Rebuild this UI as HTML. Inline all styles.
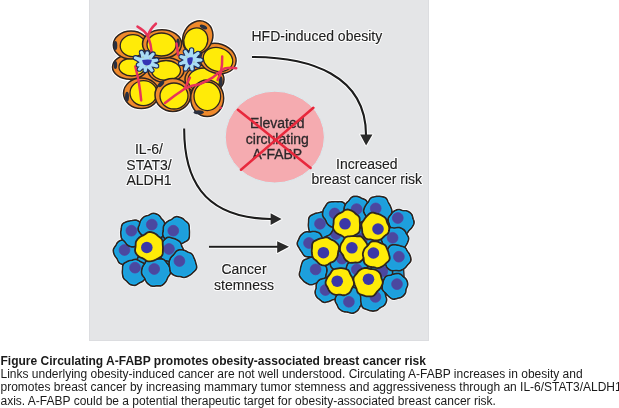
<!DOCTYPE html>
<html><head><meta charset="utf-8"><style>
html,body{margin:0;padding:0;background:#fff;width:619px;height:408px;overflow:hidden}
svg{display:block;font-family:"Liberation Sans",sans-serif;will-change:transform}
</style></head><body>
<svg width="619" height="408" viewBox="0 0 619 408">
<rect x="89" y="0" width="340" height="341" fill="#e4e5e7"/><rect x="89.5" y="-1" width="339" height="341.5" fill="none" stroke="#dcdde0" stroke-width="1"/>
<ellipse cx="166" cy="70" rx="18" ry="12.5" fill="#fff" stroke="#fff" stroke-width="3.5"/>
<ellipse cx="204.5" cy="79.5" rx="19.5" ry="14.5" fill="#fff" stroke="#fff" stroke-width="3.5"/>
<ellipse cx="217.5" cy="58.5" rx="19" ry="14.8" transform="rotate(18 217.5 58.5)" fill="#fff" stroke="#fff" stroke-width="3.5"/>
<ellipse cx="130" cy="67" rx="17.5" ry="12.3" fill="#fff" stroke="#fff" stroke-width="3.5"/>
<ellipse cx="131" cy="45" rx="17.7" ry="14" fill="#fff" stroke="#fff" stroke-width="3.5"/>
<ellipse cx="162" cy="44" rx="19.5" ry="14.2" fill="#fff" stroke="#fff" stroke-width="3.5"/>
<ellipse cx="197.8" cy="37.5" rx="14.5" ry="17.2" transform="rotate(28 197.8 37.5)" fill="#fff" stroke="#fff" stroke-width="3.5"/>
<ellipse cx="141.3" cy="93.3" rx="17.8" ry="15.3" fill="#fff" stroke="#fff" stroke-width="3.5"/>
<ellipse cx="172.8" cy="95" rx="17.8" ry="16.5" fill="#fff" stroke="#fff" stroke-width="3.5"/>
<ellipse cx="207.2" cy="98.3" rx="16.5" ry="18.3" fill="#fff" stroke="#fff" stroke-width="3.5"/>
<path d="M126,50 L150,38 L185,40 L208,52 L218,78 L208,100 L175,102 L140,95 L124,70Z" fill="#f08a2c"/>
<ellipse cx="166" cy="70" rx="18" ry="12.5" fill="#f08a2c" stroke="#2e2420" stroke-width="1.5"/>
<ellipse cx="166" cy="70.5" rx="14.5" ry="10" fill="#ffeb08" stroke="#2e2420" stroke-width="1.3"/>
<ellipse cx="204.5" cy="79.5" rx="19.5" ry="14.5" fill="#f08a2c" stroke="#2e2420" stroke-width="1.5"/>
<ellipse cx="204" cy="80" rx="16" ry="12" fill="#ffeb08" stroke="#2e2420" stroke-width="1.3"/>
<ellipse cx="220.7" cy="81.3" rx="2" ry="5" fill="#2a3040"/>
<ellipse cx="217.5" cy="58.5" rx="19" ry="14.8" transform="rotate(18 217.5 58.5)" fill="#f08a2c" stroke="#2e2420" stroke-width="1.5"/>
<ellipse cx="218" cy="59.5" rx="15" ry="11.8" transform="rotate(18 218 59.5)" fill="#ffeb08" stroke="#2e2420" stroke-width="1.3"/>
<ellipse cx="200.8" cy="53.5" rx="1.8" ry="4.5" transform="rotate(10 200.8 53.5)" fill="#2a3040"/>
<ellipse cx="130" cy="67" rx="17.5" ry="12.3" fill="#f08a2c" stroke="#2e2420" stroke-width="1.5"/>
<ellipse cx="132" cy="67" rx="13" ry="9" fill="#ffeb08" stroke="#2e2420" stroke-width="1.3"/>
<ellipse cx="115.4" cy="65" rx="1.8" ry="4" fill="#2a3040"/>
<ellipse cx="131" cy="45" rx="17.7" ry="14" fill="#f08a2c" stroke="#2e2420" stroke-width="1.5"/>
<ellipse cx="133" cy="45.7" rx="12.8" ry="11" fill="#ffeb08" stroke="#2e2420" stroke-width="1.3"/>
<ellipse cx="115.5" cy="45.5" rx="1.8" ry="4.5" fill="#2a3040"/>
<ellipse cx="162" cy="44" rx="19.5" ry="14.2" fill="#f08a2c" stroke="#2e2420" stroke-width="1.5"/>
<ellipse cx="161.5" cy="44.5" rx="14.5" ry="11.5" fill="#ffeb08" stroke="#2e2420" stroke-width="1.3"/>
<ellipse cx="178" cy="43" rx="1.8" ry="4.5" fill="#2a3040"/>
<ellipse cx="197.8" cy="37.5" rx="14.5" ry="17.2" transform="rotate(28 197.8 37.5)" fill="#f08a2c" stroke="#2e2420" stroke-width="1.5"/>
<ellipse cx="195.8" cy="40.5" rx="11.8" ry="12.8" transform="rotate(28 195.8 40.5)" fill="#ffeb08" stroke="#2e2420" stroke-width="1.3"/>
<ellipse cx="203.5" cy="27" rx="4" ry="1.8" transform="rotate(25 203.5 27)" fill="#2a3040"/>
<ellipse cx="141.3" cy="93.3" rx="17.8" ry="15.3" fill="#f08a2c" stroke="#2e2420" stroke-width="1.5"/>
<ellipse cx="143.5" cy="93.1" rx="13.5" ry="12.5" fill="#ffeb08" stroke="#2e2420" stroke-width="1.3"/>
<ellipse cx="127" cy="96.8" rx="2" ry="5" fill="#2a3040"/>
<ellipse cx="172.8" cy="95" rx="17.8" ry="16.5" fill="#f08a2c" stroke="#2e2420" stroke-width="1.5"/>
<ellipse cx="174" cy="96" rx="14" ry="13" fill="#ffeb08" stroke="#2e2420" stroke-width="1.3"/>
<ellipse cx="161" cy="84" rx="4" ry="2" transform="rotate(-45 161 84)" fill="#2a3040"/>
<ellipse cx="207.2" cy="98.3" rx="16.5" ry="18.3" fill="#f08a2c" stroke="#2e2420" stroke-width="1.5"/>
<ellipse cx="207.3" cy="96.3" rx="13.3" ry="14.3" fill="#ffeb08" stroke="#2e2420" stroke-width="1.3"/>
<ellipse cx="198.7" cy="112.2" rx="5" ry="2" fill="#2a3040"/>
<path d="M137.5,26.6 Q144,30 147.8,35.8 Q151,44 152,54" fill="none" stroke="#e8345a" stroke-width="2.5" stroke-linecap="round"/>
<path d="M155.9,23.7 Q150,29 147.8,35.8" fill="none" stroke="#e8345a" stroke-width="2.5" stroke-linecap="round"/>
<path d="M135.3,66.5 Q139.5,82 141.2,100.4" fill="none" stroke="#e8345a" stroke-width="2.5" stroke-linecap="round"/>
<path d="M165,103 Q175,95 184.7,88.7 Q192,85 199.4,84.3 Q207,81 212.6,77.6 Q219,72 224.4,68.5 Q230,67 236.2,68.2" fill="none" stroke="#e8345a" stroke-width="2.5" stroke-linecap="round"/>
<path d="M189.9,77.6 Q187.5,83 184.7,88.7" fill="none" stroke="#e8345a" stroke-width="2.5" stroke-linecap="round"/>
<path d="M222.2,56.5 Q222.5,65 220.7,73 Q219,77 217.6,80" fill="none" stroke="#e8345a" stroke-width="2.5" stroke-linecap="round"/>
<path d="M176.5,43.5 Q177.5,49 178,55" fill="none" stroke="#e8345a" stroke-width="2.5" stroke-linecap="round"/>
<circle cx="220.7" cy="107.8" r="1.2" fill="#e8345a"/>
<circle cx="145.6" cy="62.3" r="6.9" fill="#1c2c5c"/><path d="M146.51,57.62 L142.85,51.76 L140.26,52.81 L141.69,59.57Z" fill="#1c2c5c" stroke="#1c2c5c" stroke-width="2.2" stroke-linejoin="round"/><circle cx="141.55" cy="52.29" r="2.7" fill="#1c2c5c"/><path d="M148.86,58.81 L148.66,52.99 L145.91,52.50 L143.73,57.91Z" fill="#1c2c5c" stroke="#1c2c5c" stroke-width="2.2" stroke-linejoin="round"/><circle cx="147.28" cy="52.75" r="2.7" fill="#1c2c5c"/><path d="M150.21,61.07 L154.13,54.91 L152.05,53.04 L146.34,57.59Z" fill="#1c2c5c" stroke="#1c2c5c" stroke-width="2.2" stroke-linejoin="round"/><circle cx="153.09" cy="53.98" r="2.7" fill="#1c2c5c"/><path d="M150.02,64.09 L156.86,61.54 L156.33,58.79 L149.03,58.98Z" fill="#1c2c5c" stroke="#1c2c5c" stroke-width="2.2" stroke-linejoin="round"/><circle cx="156.59" cy="60.16" r="2.7" fill="#1c2c5c"/><path d="M148.60,66.01 L156.20,67.22 L157.06,64.55 L150.21,61.06Z" fill="#1c2c5c" stroke="#1c2c5c" stroke-width="2.2" stroke-linejoin="round"/><circle cx="156.63" cy="65.88" r="2.7" fill="#1c2c5c"/><path d="M146.01,67.05 L150.78,71.20 L152.98,69.48 L150.11,63.85Z" fill="#1c2c5c" stroke="#1c2c5c" stroke-width="2.2" stroke-linejoin="round"/><circle cx="151.88" cy="70.34" r="2.7" fill="#1c2c5c"/><path d="M142.86,66.21 L143.91,70.45 L146.71,70.54 L148.06,66.39Z" fill="#1c2c5c" stroke="#1c2c5c" stroke-width="2.2" stroke-linejoin="round"/><circle cx="145.31" cy="70.50" r="2.7" fill="#1c2c5c"/><path d="M140.99,63.53 L138.40,68.20 L140.48,70.07 L144.86,67.01Z" fill="#1c2c5c" stroke="#1c2c5c" stroke-width="2.2" stroke-linejoin="round"/><circle cx="139.44" cy="69.14" r="2.7" fill="#1c2c5c"/><path d="M140.95,61.22 L137.89,63.62 L138.84,66.25 L142.73,66.11Z" fill="#1c2c5c" stroke="#1c2c5c" stroke-width="2.2" stroke-linejoin="round"/><circle cx="138.36" cy="64.93" r="2.7" fill="#1c2c5c"/><path d="M143.00,58.30 L135.94,56.47 L134.80,59.02 L140.89,63.05Z" fill="#1c2c5c" stroke="#1c2c5c" stroke-width="2.2" stroke-linejoin="round"/><circle cx="135.37" cy="57.74" r="2.7" fill="#1c2c5c"/>
<circle cx="145.6" cy="62.3" r="5.8" fill="#a9dcf4"/><path d="M146.51,57.62 L142.85,51.76 L140.26,52.81 L141.69,59.57Z" fill="#a9dcf4"/><circle cx="141.55" cy="52.29" r="1.5999999999999999" fill="#a9dcf4"/><path d="M148.86,58.81 L148.66,52.99 L145.91,52.50 L143.73,57.91Z" fill="#a9dcf4"/><circle cx="147.28" cy="52.75" r="1.5999999999999999" fill="#a9dcf4"/><path d="M150.21,61.07 L154.13,54.91 L152.05,53.04 L146.34,57.59Z" fill="#a9dcf4"/><circle cx="153.09" cy="53.98" r="1.5999999999999999" fill="#a9dcf4"/><path d="M150.02,64.09 L156.86,61.54 L156.33,58.79 L149.03,58.98Z" fill="#a9dcf4"/><circle cx="156.59" cy="60.16" r="1.5999999999999999" fill="#a9dcf4"/><path d="M148.60,66.01 L156.20,67.22 L157.06,64.55 L150.21,61.06Z" fill="#a9dcf4"/><circle cx="156.63" cy="65.88" r="1.5999999999999999" fill="#a9dcf4"/><path d="M146.01,67.05 L150.78,71.20 L152.98,69.48 L150.11,63.85Z" fill="#a9dcf4"/><circle cx="151.88" cy="70.34" r="1.5999999999999999" fill="#a9dcf4"/><path d="M142.86,66.21 L143.91,70.45 L146.71,70.54 L148.06,66.39Z" fill="#a9dcf4"/><circle cx="145.31" cy="70.50" r="1.5999999999999999" fill="#a9dcf4"/><path d="M140.99,63.53 L138.40,68.20 L140.48,70.07 L144.86,67.01Z" fill="#a9dcf4"/><circle cx="139.44" cy="69.14" r="1.5999999999999999" fill="#a9dcf4"/><path d="M140.95,61.22 L137.89,63.62 L138.84,66.25 L142.73,66.11Z" fill="#a9dcf4"/><circle cx="138.36" cy="64.93" r="1.5999999999999999" fill="#a9dcf4"/><path d="M143.00,58.30 L135.94,56.47 L134.80,59.02 L140.89,63.05Z" fill="#a9dcf4"/><circle cx="135.37" cy="57.74" r="1.5999999999999999" fill="#a9dcf4"/>
<circle cx="190.2" cy="60" r="6.9" fill="#1c2c5c"/><path d="M190.45,55.24 L186.56,50.90 L184.14,52.30 L185.95,57.84Z" fill="#1c2c5c" stroke="#1c2c5c" stroke-width="2.2" stroke-linejoin="round"/><circle cx="185.35" cy="51.60" r="2.7" fill="#1c2c5c"/><path d="M193.33,56.40 L193.01,50.09 L190.23,49.70 L188.18,55.68Z" fill="#1c2c5c" stroke="#1c2c5c" stroke-width="2.2" stroke-linejoin="round"/><circle cx="191.62" cy="49.90" r="2.7" fill="#1c2c5c"/><path d="M194.94,59.42 L198.91,54.52 L197.11,52.37 L191.59,55.44Z" fill="#1c2c5c" stroke="#1c2c5c" stroke-width="2.2" stroke-linejoin="round"/><circle cx="198.01" cy="53.44" r="2.7" fill="#1c2c5c"/><path d="M194.20,62.60 L200.90,61.40 L200.90,58.60 L194.20,57.40Z" fill="#1c2c5c" stroke="#1c2c5c" stroke-width="2.2" stroke-linejoin="round"/><circle cx="200.90" cy="60.00" r="2.7" fill="#1c2c5c"/><path d="M191.99,64.42 L197.34,66.71 L198.95,64.42 L194.97,60.16Z" fill="#1c2c5c" stroke="#1c2c5c" stroke-width="2.2" stroke-linejoin="round"/><circle cx="198.15" cy="65.56" r="2.7" fill="#1c2c5c"/><path d="M188.49,64.45 L190.74,69.29 L193.48,68.71 L193.57,63.37Z" fill="#1c2c5c" stroke="#1c2c5c" stroke-width="2.2" stroke-linejoin="round"/><circle cx="192.11" cy="69.00" r="2.7" fill="#1c2c5c"/><path d="M186.03,62.31 L184.18,68.35 L186.65,69.66 L190.62,64.75Z" fill="#1c2c5c" stroke="#1c2c5c" stroke-width="2.2" stroke-linejoin="round"/><circle cx="185.41" cy="69.01" r="2.7" fill="#1c2c5c"/><path d="M185.55,58.92 L180.14,62.17 L181.09,64.80 L187.33,63.81Z" fill="#1c2c5c" stroke="#1c2c5c" stroke-width="2.2" stroke-linejoin="round"/><circle cx="180.62" cy="63.49" r="2.7" fill="#1c2c5c"/><path d="M187.33,56.19 L181.56,55.37 L180.61,58.00 L185.55,61.08Z" fill="#1c2c5c" stroke="#1c2c5c" stroke-width="2.2" stroke-linejoin="round"/><circle cx="181.08" cy="56.68" r="2.7" fill="#1c2c5c"/>
<circle cx="190.2" cy="60" r="5.8" fill="#a9dcf4"/><path d="M190.45,55.24 L186.56,50.90 L184.14,52.30 L185.95,57.84Z" fill="#a9dcf4"/><circle cx="185.35" cy="51.60" r="1.5999999999999999" fill="#a9dcf4"/><path d="M193.33,56.40 L193.01,50.09 L190.23,49.70 L188.18,55.68Z" fill="#a9dcf4"/><circle cx="191.62" cy="49.90" r="1.5999999999999999" fill="#a9dcf4"/><path d="M194.94,59.42 L198.91,54.52 L197.11,52.37 L191.59,55.44Z" fill="#a9dcf4"/><circle cx="198.01" cy="53.44" r="1.5999999999999999" fill="#a9dcf4"/><path d="M194.20,62.60 L200.90,61.40 L200.90,58.60 L194.20,57.40Z" fill="#a9dcf4"/><circle cx="200.90" cy="60.00" r="1.5999999999999999" fill="#a9dcf4"/><path d="M191.99,64.42 L197.34,66.71 L198.95,64.42 L194.97,60.16Z" fill="#a9dcf4"/><circle cx="198.15" cy="65.56" r="1.5999999999999999" fill="#a9dcf4"/><path d="M188.49,64.45 L190.74,69.29 L193.48,68.71 L193.57,63.37Z" fill="#a9dcf4"/><circle cx="192.11" cy="69.00" r="1.5999999999999999" fill="#a9dcf4"/><path d="M186.03,62.31 L184.18,68.35 L186.65,69.66 L190.62,64.75Z" fill="#a9dcf4"/><circle cx="185.41" cy="69.01" r="1.5999999999999999" fill="#a9dcf4"/><path d="M185.55,58.92 L180.14,62.17 L181.09,64.80 L187.33,63.81Z" fill="#a9dcf4"/><circle cx="180.62" cy="63.49" r="1.5999999999999999" fill="#a9dcf4"/><path d="M187.33,56.19 L181.56,55.37 L180.61,58.00 L185.55,61.08Z" fill="#a9dcf4"/><circle cx="181.08" cy="56.68" r="1.5999999999999999" fill="#a9dcf4"/>
<path d="M142.2,60 Q147,59 151.8,59.8 Q151.5,65.3 146.8,65.4 Q142.5,65.3 142.2,60Z" fill="#3434b4"/>
<path d="M187.3,58.5 Q190,56.8 192.8,57.6 Q193,64 189.5,65.6 Q187,63.5 187.3,58.5Z" fill="#3434b4"/>
<circle cx="143" cy="57" r="0.5" fill="#b8b030"/>
<circle cx="150" cy="58" r="0.5" fill="#b8b030"/>
<circle cx="146" cy="66" r="0.5" fill="#b8b030"/>
<circle cx="187" cy="57" r="0.5" fill="#b8b030"/>
<circle cx="194" cy="62" r="0.5" fill="#b8b030"/>
<circle cx="190" cy="66" r="0.5" fill="#b8b030"/>
<ellipse cx="274.8" cy="137.1" rx="49.6" ry="45.9" fill="#f5abb0" stroke="#d8ecf0" stroke-width="1"/>
<text x="277.3" y="128.2" text-anchor="middle" font-size="14" fill="#2c282a" stroke="#2c282a" stroke-width="0.3">Elevated</text>
<text x="277.3" y="143.8" text-anchor="middle" font-size="14" fill="#2c282a" stroke="#2c282a" stroke-width="0.3">circulating</text>
<text x="277.3" y="159.4" text-anchor="middle" font-size="14" fill="#2c282a" stroke="#2c282a" stroke-width="0.3">A-FABP</text>
<path d="M237.9,109.7 L310.6,167.9 M313.4,107.8 L241,169.7" stroke="#e8283c" stroke-width="2.5" stroke-linecap="round"/>
<path d="M252,57 C310,57 366,75 366,135" fill="none" stroke="#fff" stroke-width="3.8"/>
<path d="M360.2,134.5 L372.5,134.5 L366.1,145.5Z" fill="#fff" stroke="#fff" stroke-width="2" stroke-linejoin="round"/>
<path d="M252,57 C310,57 366,75 366,135" fill="none" stroke="#1c1c1c" stroke-width="2.1"/>
<path d="M360.2,134.5 L372.5,134.5 L366.1,145.5Z" fill="#2a2a2a"/>
<path d="M184.2,128.5 C184,175 200,218 271,219" fill="none" stroke="#fff" stroke-width="3.8"/>
<path d="M270.6,213.2 L270.6,225 L281.6,219.1Z" fill="#fff" stroke="#fff" stroke-width="2" stroke-linejoin="round"/>
<path d="M184.2,128.5 C184,175 200,218 271,219" fill="none" stroke="#1c1c1c" stroke-width="2.1"/>
<path d="M270.6,213.2 L270.6,225 L281.6,219.1Z" fill="#2a2a2a"/>
<path d="M209,246.8 L278,246.8" fill="none" stroke="#fff" stroke-width="3.8"/>
<path d="M277.2,241.2 L277.2,253 L289,246.8Z" fill="#fff" stroke="#fff" stroke-width="2" stroke-linejoin="round"/>
<path d="M209,246.8 L278,246.8" fill="none" stroke="#1c1c1c" stroke-width="2.1"/>
<path d="M277.2,241.2 L277.2,253 L289,246.8Z" fill="#2a2a2a"/>
<text x="251.5" y="41.2" text-anchor="start" font-size="14" fill="#fff" stroke="#fff" stroke-width="2.2" stroke-linejoin="round">HFD-induced obesity</text>
<text x="251.5" y="41.2" text-anchor="start" font-size="14" fill="#1e1e1e" stroke="#1e1e1e" stroke-width="0.15">HFD-induced obesity</text>
<text x="149" y="154.2" text-anchor="middle" font-size="14" fill="#fff" stroke="#fff" stroke-width="2.2" stroke-linejoin="round">IL-6/</text>
<text x="149" y="154.2" text-anchor="middle" font-size="14" fill="#1e1e1e" stroke="#1e1e1e" stroke-width="0.15">IL-6/</text>
<text x="149" y="169.79999999999998" text-anchor="middle" font-size="14" fill="#fff" stroke="#fff" stroke-width="2.2" stroke-linejoin="round">STAT3/</text>
<text x="149" y="169.79999999999998" text-anchor="middle" font-size="14" fill="#1e1e1e" stroke="#1e1e1e" stroke-width="0.15">STAT3/</text>
<text x="149" y="185.39999999999998" text-anchor="middle" font-size="14" fill="#fff" stroke="#fff" stroke-width="2.2" stroke-linejoin="round">ALDH1</text>
<text x="149" y="185.39999999999998" text-anchor="middle" font-size="14" fill="#1e1e1e" stroke="#1e1e1e" stroke-width="0.15">ALDH1</text>
<text x="366.8" y="169.2" text-anchor="middle" font-size="14" fill="#fff" stroke="#fff" stroke-width="2.2" stroke-linejoin="round">Increased</text>
<text x="366.8" y="169.2" text-anchor="middle" font-size="14" fill="#1e1e1e" stroke="#1e1e1e" stroke-width="0.15">Increased</text>
<text x="366.8" y="184.0" text-anchor="middle" font-size="14" fill="#fff" stroke="#fff" stroke-width="2.2" stroke-linejoin="round">breast cancer risk</text>
<text x="366.8" y="184.0" text-anchor="middle" font-size="14" fill="#1e1e1e" stroke="#1e1e1e" stroke-width="0.15">breast cancer risk</text>
<text x="244" y="274.0" text-anchor="middle" font-size="14" fill="#fff" stroke="#fff" stroke-width="2.2" stroke-linejoin="round">Cancer</text>
<text x="244" y="274.0" text-anchor="middle" font-size="14" fill="#1e1e1e" stroke="#1e1e1e" stroke-width="0.15">Cancer</text>
<text x="244" y="289.5" text-anchor="middle" font-size="14" fill="#fff" stroke="#fff" stroke-width="2.2" stroke-linejoin="round">stemness</text>
<text x="244" y="289.5" text-anchor="middle" font-size="14" fill="#1e1e1e" stroke="#1e1e1e" stroke-width="0.15">stemness</text>
<path d="M140.43,252.00 L139.93,253.46 L139.24,254.79 L138.61,256.06 L138.01,257.30 L137.32,258.49 L136.58,259.64 L135.88,260.88 L135.17,262.25 L134.26,263.55 L132.99,264.44 L131.49,264.82 L129.95,264.93 L128.47,265.03 L127.00,265.15 L125.52,265.11 L124.07,264.83 L122.65,264.42 L121.24,263.96 L119.90,263.30 L118.82,262.25 L118.10,260.90 L117.55,259.54 L116.88,258.36 L116.01,257.29 L115.13,256.15 L114.43,254.87 L113.92,253.47 L113.52,252.00 L113.35,250.46 L113.63,248.95 L114.38,247.58 L115.29,246.36 L116.07,245.13 L116.74,243.82 L117.54,242.54 L118.64,241.52 L119.96,240.80 L121.34,240.25 L122.75,239.85 L124.19,239.71 L125.63,239.86 L127.00,240.06 L128.35,240.02 L129.80,239.74 L131.35,239.57 L132.86,239.83 L134.21,240.52 L135.42,241.44 L136.53,242.47 L137.48,243.64 L138.16,244.99 L138.67,246.38 L139.24,247.72 L139.91,249.05 L140.42,250.49Z" fill="#fff" stroke="#fff" stroke-width="3.2"/>
<path d="M146.46,233.00 L145.92,234.40 L145.60,235.76 L145.37,237.15 L144.95,238.51 L144.28,239.78 L143.48,240.96 L142.60,242.10 L141.55,243.10 L140.28,243.80 L138.92,244.25 L137.61,244.75 L136.35,245.49 L135.00,246.30 L133.50,246.80 L131.94,246.82 L130.43,246.45 L128.99,245.88 L127.67,245.10 L126.57,244.04 L125.68,242.81 L124.82,241.68 L123.82,240.72 L122.71,239.78 L121.79,238.64 L121.28,237.28 L121.07,235.84 L120.95,234.41 L120.85,233.00 L120.89,231.58 L121.12,230.17 L121.36,228.75 L121.53,227.23 L121.79,225.64 L122.46,224.20 L123.64,223.14 L125.10,222.46 L126.56,221.95 L127.95,221.47 L129.32,221.07 L130.72,220.83 L132.11,220.66 L133.50,220.41 L134.95,220.16 L136.41,220.24 L137.77,220.80 L138.96,221.67 L140.10,222.50 L141.33,223.18 L142.63,223.87 L143.83,224.76 L144.89,225.84 L145.85,227.05 L146.68,228.39 L147.12,229.89 L146.99,231.48Z" fill="#fff" stroke="#fff" stroke-width="3.2"/>
<path d="M164.41,227.00 L164.32,228.39 L164.09,229.76 L163.77,231.12 L163.51,232.54 L163.29,234.10 L162.86,235.66 L161.94,236.94 L160.60,237.79 L159.12,238.34 L157.69,238.81 L156.29,239.26 L154.87,239.56 L153.43,239.67 L152.00,239.73 L150.55,239.83 L149.08,239.77 L147.70,239.29 L146.52,238.38 L145.49,237.35 L144.43,236.50 L143.22,235.78 L142.00,234.97 L140.90,233.97 L139.93,232.81 L139.04,231.54 L138.37,230.11 L138.18,228.56 L138.54,227.00 L139.14,225.55 L139.63,224.18 L139.94,222.78 L140.33,221.38 L141.01,220.09 L141.92,218.96 L142.92,217.92 L144.00,216.97 L145.25,216.26 L146.63,215.84 L147.99,215.54 L149.27,215.04 L150.57,214.29 L152.00,213.61 L153.54,213.34 L155.07,213.54 L156.54,214.03 L157.92,214.70 L159.16,215.61 L160.15,216.78 L160.97,218.03 L161.84,219.15 L162.85,220.18 L163.81,221.31 L164.40,222.66 L164.55,224.14 L164.48,225.59Z" fill="#fff" stroke="#fff" stroke-width="3.2"/>
<path d="M189.33,231.00 L189.37,232.44 L189.31,233.90 L189.28,235.44 L189.22,237.08 L188.83,238.69 L187.90,240.01 L186.56,240.96 L185.13,241.69 L183.79,242.44 L182.48,243.21 L181.08,243.81 L179.61,244.17 L178.11,244.42 L176.60,244.60 L175.07,244.54 L173.63,244.01 L172.36,243.12 L171.19,242.23 L169.94,241.60 L168.53,241.12 L167.11,240.49 L165.85,239.58 L164.74,238.45 L163.76,237.18 L163.03,235.75 L162.76,234.16 L162.94,232.54 L163.25,231.00 L163.39,229.51 L163.40,227.99 L163.61,226.46 L164.24,225.05 L165.17,223.82 L166.21,222.71 L167.31,221.71 L168.54,220.89 L169.87,220.30 L171.16,219.71 L172.36,218.89 L173.60,217.86 L175.02,217.02 L176.60,216.69 L178.19,216.86 L179.73,217.28 L181.21,217.82 L182.59,218.56 L183.80,219.54 L184.90,220.59 L186.04,221.56 L187.27,222.49 L188.32,223.64 L188.92,225.07 L189.08,226.63 L189.09,228.15 L189.19,229.58Z" fill="#fff" stroke="#fff" stroke-width="3.2"/>
<path d="M183.43,250.00 L183.55,251.41 L183.43,252.84 L183.10,254.23 L182.45,255.51 L181.42,256.55 L180.21,257.35 L179.11,258.11 L178.19,259.02 L177.27,259.98 L176.18,260.76 L174.93,261.22 L173.62,261.48 L172.31,261.67 L171.00,261.71 L169.70,261.52 L168.45,261.17 L167.18,260.91 L165.79,260.82 L164.31,260.65 L162.95,260.10 L161.89,259.11 L161.12,257.88 L160.52,256.59 L160.04,255.28 L159.78,253.93 L159.71,252.58 L159.62,251.28 L159.37,250.00 L159.13,248.66 L159.22,247.31 L159.76,246.07 L160.55,244.97 L161.31,243.91 L161.99,242.82 L162.74,241.74 L163.61,240.74 L164.57,239.77 L165.58,238.75 L166.74,237.83 L168.10,237.30 L169.57,237.35 L171.00,237.78 L172.32,238.24 L173.61,238.59 L174.87,238.95 L176.07,239.47 L177.21,240.12 L178.34,240.79 L179.45,241.55 L180.37,242.53 L180.94,243.75 L181.28,245.05 L181.69,246.26 L182.32,247.42 L183.00,248.65Z" fill="#fff" stroke="#fff" stroke-width="3.2"/>
<path d="M146.73,272.00 L146.47,273.35 L146.34,274.70 L146.08,276.05 L145.56,277.33 L144.89,278.53 L144.15,279.70 L143.27,280.77 L142.15,281.59 L140.87,282.14 L139.63,282.66 L138.48,283.38 L137.30,284.28 L135.97,285.01 L134.50,285.31 L133.01,285.22 L131.56,284.89 L130.18,284.35 L128.95,283.51 L127.95,282.43 L127.05,281.34 L126.06,280.44 L124.95,279.62 L123.92,278.65 L123.24,277.42 L122.90,276.06 L122.69,274.70 L122.49,273.35 L122.40,272.00 L122.50,270.65 L122.64,269.29 L122.68,267.86 L122.71,266.32 L123.06,264.81 L123.93,263.57 L125.19,262.69 L126.55,262.03 L127.85,261.42 L129.15,260.90 L130.49,260.54 L131.83,260.29 L133.15,259.99 L134.50,259.64 L135.91,259.51 L137.28,259.84 L138.51,260.55 L139.65,261.32 L140.83,261.92 L142.10,262.47 L143.34,263.16 L144.48,264.04 L145.54,265.06 L146.53,266.21 L147.25,267.54 L147.45,269.04 L147.16,270.57Z" fill="#fff" stroke="#fff" stroke-width="3.2"/>
<path d="M170.61,272.00 L170.27,273.61 L169.41,275.06 L168.39,276.34 L167.60,277.59 L167.05,278.94 L166.47,280.35 L165.68,281.68 L164.69,282.90 L163.58,284.06 L162.31,285.10 L160.82,285.76 L159.18,285.94 L157.56,285.88 L156.00,285.93 L154.41,286.14 L152.75,286.22 L151.15,285.86 L149.70,285.08 L148.40,284.09 L147.24,282.99 L146.29,281.71 L145.64,280.27 L145.11,278.84 L144.40,277.59 L143.40,276.41 L142.40,275.10 L141.78,273.60 L141.64,272.00 L141.77,270.40 L142.03,268.81 L142.48,267.27 L143.21,265.84 L144.12,264.53 L144.97,263.21 L145.78,261.78 L146.79,260.45 L148.16,259.53 L149.80,259.14 L151.47,259.05 L153.03,258.98 L154.52,258.89 L156.00,258.90 L157.47,258.99 L158.97,259.01 L160.58,258.92 L162.25,259.01 L163.79,259.61 L165.01,260.71 L166.00,262.00 L166.97,263.25 L167.99,264.47 L168.89,265.79 L169.55,267.26 L170.04,268.80 L170.44,270.37Z" fill="#fff" stroke="#fff" stroke-width="3.2"/>
<path d="M195.96,264.00 L196.42,265.57 L196.65,267.23 L196.31,268.83 L195.37,270.20 L194.18,271.34 L193.03,272.39 L191.95,273.45 L190.80,274.40 L189.53,275.19 L188.23,275.90 L186.91,276.61 L185.51,277.20 L184.01,277.38 L182.50,277.08 L181.08,276.62 L179.68,276.34 L178.21,276.27 L176.66,276.13 L175.15,275.70 L173.72,275.00 L172.37,274.13 L171.17,273.03 L170.34,271.64 L170.00,270.02 L169.93,268.40 L169.76,266.91 L169.40,265.48 L169.09,264.00 L169.11,262.49 L169.46,261.02 L169.97,259.62 L170.57,258.26 L171.38,257.01 L172.42,255.96 L173.52,255.02 L174.47,253.93 L175.35,252.61 L176.39,251.31 L177.74,250.39 L179.30,249.96 L180.91,249.87 L182.50,249.95 L184.05,250.26 L185.50,250.88 L186.83,251.63 L188.15,252.28 L189.55,252.77 L190.96,253.39 L192.12,254.38 L192.92,255.69 L193.49,257.09 L194.07,258.43 L194.67,259.74 L195.17,261.11 L195.55,262.53Z" fill="#fff" stroke="#fff" stroke-width="3.2"/>
<path d="M163.19,247.00 L163.40,248.57 L163.10,250.10 L162.36,251.50 L161.56,252.81 L160.91,254.17 L160.29,255.61 L159.45,256.95 L158.31,258.05 L156.98,258.90 L155.56,259.59 L154.06,260.02 L152.48,260.04 L150.93,259.71 L149.50,259.39 L148.11,259.37 L146.63,259.56 L145.09,259.59 L143.61,259.23 L142.23,258.57 L140.93,257.75 L139.72,256.78 L138.73,255.59 L138.02,254.22 L137.39,252.83 L136.63,251.50 L135.79,250.13 L135.24,248.61 L135.26,247.00 L135.75,245.45 L136.43,244.02 L137.13,242.67 L137.93,241.43 L138.84,240.30 L139.73,239.21 L140.47,237.97 L141.19,236.58 L142.15,235.30 L143.46,234.45 L144.96,234.03 L146.48,233.78 L147.98,233.51 L149.50,233.32 L151.04,233.36 L152.56,233.59 L154.10,233.86 L155.66,234.21 L157.10,234.91 L158.20,236.09 L158.92,237.58 L159.48,239.04 L160.14,240.32 L160.90,241.51 L161.60,242.77 L162.17,244.11 L162.70,245.51Z" fill="#fff" stroke="#fff" stroke-width="3.2"/>
<path d="M130,238 L170,234 L180,262 L150,276 L124,256Z" fill="#1e9fdc" stroke="#2e2420" stroke-width="1.3"/>
<path d="M140.43,252.00 L139.93,253.46 L139.24,254.79 L138.61,256.06 L138.01,257.30 L137.32,258.49 L136.58,259.64 L135.88,260.88 L135.17,262.25 L134.26,263.55 L132.99,264.44 L131.49,264.82 L129.95,264.93 L128.47,265.03 L127.00,265.15 L125.52,265.11 L124.07,264.83 L122.65,264.42 L121.24,263.96 L119.90,263.30 L118.82,262.25 L118.10,260.90 L117.55,259.54 L116.88,258.36 L116.01,257.29 L115.13,256.15 L114.43,254.87 L113.92,253.47 L113.52,252.00 L113.35,250.46 L113.63,248.95 L114.38,247.58 L115.29,246.36 L116.07,245.13 L116.74,243.82 L117.54,242.54 L118.64,241.52 L119.96,240.80 L121.34,240.25 L122.75,239.85 L124.19,239.71 L125.63,239.86 L127.00,240.06 L128.35,240.02 L129.80,239.74 L131.35,239.57 L132.86,239.83 L134.21,240.52 L135.42,241.44 L136.53,242.47 L137.48,243.64 L138.16,244.99 L138.67,246.38 L139.24,247.72 L139.91,249.05 L140.42,250.49Z" fill="#1e9fdc" stroke="#2e2420" stroke-width="1.8" stroke-linejoin="round"/>
<path d="M138.98,252.00 L138.54,253.30 L137.92,254.49 L137.36,255.62 L136.82,256.73 L136.21,257.79 L135.55,258.82 L134.92,259.92 L134.29,261.15 L133.47,262.30 L132.35,263.10 L131.00,263.44 L129.63,263.53 L128.31,263.63 L127.00,263.74 L125.68,263.70 L124.39,263.44 L123.12,263.08 L121.86,262.68 L120.66,262.08 L119.70,261.15 L119.06,259.94 L118.57,258.72 L117.97,257.67 L117.19,256.72 L116.41,255.71 L115.79,254.56 L115.33,253.32 L114.97,252.00 L114.82,250.63 L115.07,249.28 L115.74,248.06 L116.55,246.97 L117.25,245.87 L117.84,244.70 L118.56,243.56 L119.54,242.65 L120.72,242.00 L121.95,241.52 L123.21,241.16 L124.50,241.03 L125.78,241.16 L127.00,241.35 L128.20,241.31 L129.50,241.06 L130.88,240.91 L132.23,241.14 L133.43,241.76 L134.51,242.58 L135.51,243.49 L136.35,244.54 L136.96,245.74 L137.41,246.98 L137.92,248.18 L138.52,249.37 L138.97,250.65Z" fill="none" stroke="#16acec" stroke-width="1.1"/>
<circle cx="124.5" cy="250" r="5.4" fill="#4a48a0" stroke="#5a3e9e" stroke-width="0.7"/>
<path d="M146.46,233.00 L145.92,234.40 L145.60,235.76 L145.37,237.15 L144.95,238.51 L144.28,239.78 L143.48,240.96 L142.60,242.10 L141.55,243.10 L140.28,243.80 L138.92,244.25 L137.61,244.75 L136.35,245.49 L135.00,246.30 L133.50,246.80 L131.94,246.82 L130.43,246.45 L128.99,245.88 L127.67,245.10 L126.57,244.04 L125.68,242.81 L124.82,241.68 L123.82,240.72 L122.71,239.78 L121.79,238.64 L121.28,237.28 L121.07,235.84 L120.95,234.41 L120.85,233.00 L120.89,231.58 L121.12,230.17 L121.36,228.75 L121.53,227.23 L121.79,225.64 L122.46,224.20 L123.64,223.14 L125.10,222.46 L126.56,221.95 L127.95,221.47 L129.32,221.07 L130.72,220.83 L132.11,220.66 L133.50,220.41 L134.95,220.16 L136.41,220.24 L137.77,220.80 L138.96,221.67 L140.10,222.50 L141.33,223.18 L142.63,223.87 L143.83,224.76 L144.89,225.84 L145.85,227.05 L146.68,228.39 L147.12,229.89 L146.99,231.48Z" fill="#1e9fdc" stroke="#2e2420" stroke-width="1.8" stroke-linejoin="round"/>
<path d="M145.06,233.00 L144.58,234.25 L144.30,235.46 L144.09,236.71 L143.72,237.92 L143.12,239.05 L142.41,240.10 L141.62,241.12 L140.69,242.01 L139.55,242.63 L138.34,243.04 L137.17,243.48 L136.04,244.14 L134.84,244.86 L133.50,245.32 L132.11,245.33 L130.76,245.00 L129.48,244.49 L128.30,243.79 L127.31,242.85 L126.52,241.76 L125.76,240.74 L124.86,239.89 L123.87,239.05 L123.05,238.03 L122.59,236.82 L122.41,235.53 L122.30,234.26 L122.21,233.00 L122.25,231.73 L122.45,230.48 L122.67,229.21 L122.82,227.86 L123.05,226.43 L123.65,225.14 L124.70,224.20 L126.00,223.60 L127.31,223.14 L128.54,222.71 L129.77,222.35 L131.02,222.14 L132.26,221.99 L133.50,221.77 L134.79,221.55 L136.10,221.61 L137.31,222.12 L138.37,222.89 L139.39,223.63 L140.49,224.24 L141.65,224.85 L142.72,225.65 L143.66,226.61 L144.52,227.69 L145.26,228.89 L145.65,230.23 L145.54,231.64Z" fill="none" stroke="#16acec" stroke-width="1.1"/>
<circle cx="131.4" cy="230.7" r="5.4" fill="#4a48a0" stroke="#5a3e9e" stroke-width="0.7"/>
<path d="M164.41,227.00 L164.32,228.39 L164.09,229.76 L163.77,231.12 L163.51,232.54 L163.29,234.10 L162.86,235.66 L161.94,236.94 L160.60,237.79 L159.12,238.34 L157.69,238.81 L156.29,239.26 L154.87,239.56 L153.43,239.67 L152.00,239.73 L150.55,239.83 L149.08,239.77 L147.70,239.29 L146.52,238.38 L145.49,237.35 L144.43,236.50 L143.22,235.78 L142.00,234.97 L140.90,233.97 L139.93,232.81 L139.04,231.54 L138.37,230.11 L138.18,228.56 L138.54,227.00 L139.14,225.55 L139.63,224.18 L139.94,222.78 L140.33,221.38 L141.01,220.09 L141.92,218.96 L142.92,217.92 L144.00,216.97 L145.25,216.26 L146.63,215.84 L147.99,215.54 L149.27,215.04 L150.57,214.29 L152.00,213.61 L153.54,213.34 L155.07,213.54 L156.54,214.03 L157.92,214.70 L159.16,215.61 L160.15,216.78 L160.97,218.03 L161.84,219.15 L162.85,220.18 L163.81,221.31 L164.40,222.66 L164.55,224.14 L164.48,225.59Z" fill="#1e9fdc" stroke="#2e2420" stroke-width="1.8" stroke-linejoin="round"/>
<path d="M163.07,227.00 L162.99,228.24 L162.79,229.46 L162.50,230.67 L162.27,231.94 L162.08,233.33 L161.69,234.72 L160.87,235.87 L159.68,236.63 L158.36,237.12 L157.08,237.54 L155.83,237.94 L154.56,238.20 L153.27,238.30 L152.00,238.36 L150.71,238.45 L149.40,238.40 L148.16,237.97 L147.11,237.15 L146.19,236.24 L145.24,235.47 L144.17,234.83 L143.08,234.12 L142.10,233.22 L141.23,232.19 L140.43,231.05 L139.84,229.78 L139.67,228.39 L139.99,227.00 L140.52,225.71 L140.96,224.48 L141.24,223.23 L141.59,221.99 L142.19,220.84 L143.00,219.82 L143.90,218.90 L144.86,218.05 L145.98,217.41 L147.21,217.04 L148.42,216.77 L149.56,216.33 L150.72,215.66 L152.00,215.05 L153.37,214.81 L154.74,214.99 L156.05,215.43 L157.29,216.03 L158.39,216.84 L159.27,217.88 L160.01,218.99 L160.78,220.00 L161.68,220.92 L162.54,221.93 L163.06,223.13 L163.19,224.44 L163.13,225.75Z" fill="none" stroke="#16acec" stroke-width="1.1"/>
<circle cx="151.8" cy="224.6" r="5.4" fill="#4a48a0" stroke="#5a3e9e" stroke-width="0.7"/>
<path d="M189.33,231.00 L189.37,232.44 L189.31,233.90 L189.28,235.44 L189.22,237.08 L188.83,238.69 L187.90,240.01 L186.56,240.96 L185.13,241.69 L183.79,242.44 L182.48,243.21 L181.08,243.81 L179.61,244.17 L178.11,244.42 L176.60,244.60 L175.07,244.54 L173.63,244.01 L172.36,243.12 L171.19,242.23 L169.94,241.60 L168.53,241.12 L167.11,240.49 L165.85,239.58 L164.74,238.45 L163.76,237.18 L163.03,235.75 L162.76,234.16 L162.94,232.54 L163.25,231.00 L163.39,229.51 L163.40,227.99 L163.61,226.46 L164.24,225.05 L165.17,223.82 L166.21,222.71 L167.31,221.71 L168.54,220.89 L169.87,220.30 L171.16,219.71 L172.36,218.89 L173.60,217.86 L175.02,217.02 L176.60,216.69 L178.19,216.86 L179.73,217.28 L181.21,217.82 L182.59,218.56 L183.80,219.54 L184.90,220.59 L186.04,221.56 L187.27,222.49 L188.32,223.64 L188.92,225.07 L189.08,226.63 L189.09,228.15 L189.19,229.58Z" fill="#1e9fdc" stroke="#2e2420" stroke-width="1.8" stroke-linejoin="round"/>
<path d="M188.01,231.00 L188.04,232.29 L187.99,233.60 L187.97,234.98 L187.91,236.45 L187.57,237.89 L186.73,239.08 L185.52,239.92 L184.24,240.58 L183.04,241.26 L181.87,241.94 L180.62,242.48 L179.30,242.81 L177.96,243.03 L176.60,243.19 L175.23,243.13 L173.94,242.66 L172.80,241.86 L171.75,241.07 L170.63,240.50 L169.37,240.07 L168.09,239.51 L166.96,238.69 L165.97,237.68 L165.10,236.54 L164.44,235.26 L164.19,233.83 L164.35,232.38 L164.63,231.00 L164.76,229.67 L164.77,228.30 L164.96,226.93 L165.52,225.66 L166.36,224.56 L167.29,223.57 L168.27,222.67 L169.38,221.94 L170.57,221.41 L171.73,220.88 L172.80,220.14 L173.91,219.23 L175.19,218.47 L176.60,218.17 L178.03,218.32 L179.41,218.70 L180.73,219.19 L181.97,219.85 L183.05,220.73 L184.04,221.67 L185.07,222.53 L186.16,223.38 L187.11,224.40 L187.65,225.68 L187.79,227.09 L187.80,228.44 L187.88,229.73Z" fill="none" stroke="#16acec" stroke-width="1.1"/>
<circle cx="173.3" cy="230.7" r="5.4" fill="#4a48a0" stroke="#5a3e9e" stroke-width="0.7"/>
<path d="M183.43,250.00 L183.55,251.41 L183.43,252.84 L183.10,254.23 L182.45,255.51 L181.42,256.55 L180.21,257.35 L179.11,258.11 L178.19,259.02 L177.27,259.98 L176.18,260.76 L174.93,261.22 L173.62,261.48 L172.31,261.67 L171.00,261.71 L169.70,261.52 L168.45,261.17 L167.18,260.91 L165.79,260.82 L164.31,260.65 L162.95,260.10 L161.89,259.11 L161.12,257.88 L160.52,256.59 L160.04,255.28 L159.78,253.93 L159.71,252.58 L159.62,251.28 L159.37,250.00 L159.13,248.66 L159.22,247.31 L159.76,246.07 L160.55,244.97 L161.31,243.91 L161.99,242.82 L162.74,241.74 L163.61,240.74 L164.57,239.77 L165.58,238.75 L166.74,237.83 L168.10,237.30 L169.57,237.35 L171.00,237.78 L172.32,238.24 L173.61,238.59 L174.87,238.95 L176.07,239.47 L177.21,240.12 L178.34,240.79 L179.45,241.55 L180.37,242.53 L180.94,243.75 L181.28,245.05 L181.69,246.26 L182.32,247.42 L183.00,248.65Z" fill="#1e9fdc" stroke="#2e2420" stroke-width="1.8" stroke-linejoin="round"/>
<path d="M181.98,250.00 L182.08,251.25 L181.98,252.51 L181.69,253.74 L181.11,254.87 L180.20,255.78 L179.14,256.49 L178.17,257.17 L177.35,257.97 L176.54,258.82 L175.58,259.50 L174.47,259.91 L173.31,260.14 L172.16,260.31 L171.00,260.35 L169.85,260.18 L168.75,259.87 L167.63,259.64 L166.40,259.56 L165.09,259.41 L163.89,258.92 L162.95,258.05 L162.28,256.96 L161.74,255.82 L161.32,254.66 L161.09,253.47 L161.02,252.28 L160.94,251.13 L160.73,250.00 L160.51,248.82 L160.59,247.62 L161.07,246.53 L161.77,245.56 L162.44,244.62 L163.04,243.65 L163.70,242.70 L164.48,241.82 L165.32,240.96 L166.22,240.07 L167.24,239.25 L168.44,238.78 L169.74,238.82 L171.00,239.21 L172.17,239.61 L173.30,239.92 L174.42,240.24 L175.48,240.70 L176.49,241.27 L177.49,241.87 L178.47,242.53 L179.28,243.40 L179.78,244.48 L180.08,245.63 L180.45,246.69 L181.00,247.72 L181.60,248.81Z" fill="none" stroke="#16acec" stroke-width="1.1"/>
<circle cx="169" cy="249" r="5.4" fill="#4a48a0" stroke="#5a3e9e" stroke-width="0.7"/>
<path d="M146.73,272.00 L146.47,273.35 L146.34,274.70 L146.08,276.05 L145.56,277.33 L144.89,278.53 L144.15,279.70 L143.27,280.77 L142.15,281.59 L140.87,282.14 L139.63,282.66 L138.48,283.38 L137.30,284.28 L135.97,285.01 L134.50,285.31 L133.01,285.22 L131.56,284.89 L130.18,284.35 L128.95,283.51 L127.95,282.43 L127.05,281.34 L126.06,280.44 L124.95,279.62 L123.92,278.65 L123.24,277.42 L122.90,276.06 L122.69,274.70 L122.49,273.35 L122.40,272.00 L122.50,270.65 L122.64,269.29 L122.68,267.86 L122.71,266.32 L123.06,264.81 L123.93,263.57 L125.19,262.69 L126.55,262.03 L127.85,261.42 L129.15,260.90 L130.49,260.54 L131.83,260.29 L133.15,259.99 L134.50,259.64 L135.91,259.51 L137.28,259.84 L138.51,260.55 L139.65,261.32 L140.83,261.92 L142.10,262.47 L143.34,263.16 L144.48,264.04 L145.54,265.06 L146.53,266.21 L147.25,267.54 L147.45,269.04 L147.16,270.57Z" fill="#1e9fdc" stroke="#2e2420" stroke-width="1.8" stroke-linejoin="round"/>
<path d="M145.36,272.00 L145.13,273.20 L145.01,274.40 L144.78,275.60 L144.32,276.73 L143.73,277.80 L143.07,278.83 L142.28,279.78 L141.29,280.51 L140.16,281.01 L139.06,281.46 L138.04,282.11 L136.99,282.90 L135.80,283.55 L134.50,283.82 L133.18,283.74 L131.89,283.45 L130.66,282.97 L129.58,282.23 L128.68,281.26 L127.88,280.29 L127.01,279.49 L126.02,278.77 L125.11,277.90 L124.50,276.81 L124.20,275.60 L124.01,274.39 L123.84,273.20 L123.76,272.00 L123.84,270.80 L123.97,269.60 L124.01,268.33 L124.03,266.96 L124.34,265.62 L125.12,264.52 L126.23,263.73 L127.44,263.14 L128.60,262.61 L129.75,262.14 L130.94,261.82 L132.13,261.60 L133.30,261.34 L134.50,261.02 L135.75,260.91 L136.96,261.20 L138.06,261.84 L139.07,262.51 L140.12,263.05 L141.25,263.53 L142.35,264.15 L143.36,264.94 L144.30,265.84 L145.18,266.85 L145.82,268.04 L146.00,269.38 L145.74,270.73Z" fill="none" stroke="#16acec" stroke-width="1.1"/>
<circle cx="135" cy="267.7" r="5.4" fill="#4a48a0" stroke="#5a3e9e" stroke-width="0.7"/>
<path d="M170.61,272.00 L170.27,273.61 L169.41,275.06 L168.39,276.34 L167.60,277.59 L167.05,278.94 L166.47,280.35 L165.68,281.68 L164.69,282.90 L163.58,284.06 L162.31,285.10 L160.82,285.76 L159.18,285.94 L157.56,285.88 L156.00,285.93 L154.41,286.14 L152.75,286.22 L151.15,285.86 L149.70,285.08 L148.40,284.09 L147.24,282.99 L146.29,281.71 L145.64,280.27 L145.11,278.84 L144.40,277.59 L143.40,276.41 L142.40,275.10 L141.78,273.60 L141.64,272.00 L141.77,270.40 L142.03,268.81 L142.48,267.27 L143.21,265.84 L144.12,264.53 L144.97,263.21 L145.78,261.78 L146.79,260.45 L148.16,259.53 L149.80,259.14 L151.47,259.05 L153.03,258.98 L154.52,258.89 L156.00,258.90 L157.47,258.99 L158.97,259.01 L160.58,258.92 L162.25,259.01 L163.79,259.61 L165.01,260.71 L166.00,262.00 L166.97,263.25 L167.99,264.47 L168.89,265.79 L169.55,267.26 L170.04,268.80 L170.44,270.37Z" fill="#1e9fdc" stroke="#2e2420" stroke-width="1.8" stroke-linejoin="round"/>
<path d="M169.15,272.00 L168.84,273.45 L168.07,274.75 L167.16,275.90 L166.44,277.03 L165.94,278.25 L165.43,279.52 L164.71,280.71 L163.82,281.81 L162.82,282.86 L161.68,283.79 L160.33,284.38 L158.86,284.55 L157.41,284.49 L156.00,284.53 L154.57,284.73 L153.08,284.80 L151.64,284.47 L150.33,283.77 L149.16,282.89 L148.11,281.89 L147.26,280.74 L146.67,279.44 L146.20,278.16 L145.56,277.03 L144.66,275.97 L143.76,274.79 L143.20,273.44 L143.08,272.00 L143.20,270.56 L143.43,269.13 L143.83,267.74 L144.49,266.46 L145.30,265.28 L146.08,264.09 L146.81,262.81 L147.71,261.60 L148.95,260.78 L150.42,260.42 L151.92,260.34 L153.33,260.28 L154.67,260.20 L156.00,260.21 L157.32,260.29 L158.67,260.31 L160.12,260.23 L161.63,260.31 L163.01,260.85 L164.10,261.84 L165.00,263.00 L165.87,264.13 L166.79,265.22 L167.60,266.41 L168.19,267.73 L168.63,269.12 L169.00,270.54Z" fill="none" stroke="#16acec" stroke-width="1.1"/>
<circle cx="154.2" cy="269" r="5.4" fill="#4a48a0" stroke="#5a3e9e" stroke-width="0.7"/>
<path d="M195.96,264.00 L196.42,265.57 L196.65,267.23 L196.31,268.83 L195.37,270.20 L194.18,271.34 L193.03,272.39 L191.95,273.45 L190.80,274.40 L189.53,275.19 L188.23,275.90 L186.91,276.61 L185.51,277.20 L184.01,277.38 L182.50,277.08 L181.08,276.62 L179.68,276.34 L178.21,276.27 L176.66,276.13 L175.15,275.70 L173.72,275.00 L172.37,274.13 L171.17,273.03 L170.34,271.64 L170.00,270.02 L169.93,268.40 L169.76,266.91 L169.40,265.48 L169.09,264.00 L169.11,262.49 L169.46,261.02 L169.97,259.62 L170.57,258.26 L171.38,257.01 L172.42,255.96 L173.52,255.02 L174.47,253.93 L175.35,252.61 L176.39,251.31 L177.74,250.39 L179.30,249.96 L180.91,249.87 L182.50,249.95 L184.05,250.26 L185.50,250.88 L186.83,251.63 L188.15,252.28 L189.55,252.77 L190.96,253.39 L192.12,254.38 L192.92,255.69 L193.49,257.09 L194.07,258.43 L194.67,259.74 L195.17,261.11 L195.55,262.53Z" fill="#1e9fdc" stroke="#2e2420" stroke-width="1.8" stroke-linejoin="round"/>
<path d="M194.56,264.00 L194.97,265.41 L195.18,266.89 L194.87,268.33 L194.04,269.56 L192.96,270.58 L191.93,271.52 L190.97,272.47 L189.94,273.32 L188.80,274.03 L187.63,274.66 L186.46,275.30 L185.20,275.83 L183.85,275.99 L182.50,275.73 L181.23,275.31 L179.98,275.06 L178.65,275.00 L177.26,274.87 L175.91,274.49 L174.63,273.86 L173.42,273.08 L172.35,272.10 L171.61,270.85 L171.30,269.39 L171.23,267.94 L171.08,266.61 L170.76,265.32 L170.48,264.00 L170.50,262.65 L170.81,261.33 L171.27,260.07 L171.81,258.85 L172.53,257.74 L173.47,256.80 L174.45,255.95 L175.30,254.97 L176.09,253.79 L177.02,252.63 L178.23,251.80 L179.63,251.42 L181.07,251.33 L182.50,251.41 L183.89,251.69 L185.19,252.24 L186.38,252.91 L187.56,253.49 L188.82,253.94 L190.09,254.49 L191.13,255.37 L191.84,256.55 L192.35,257.81 L192.87,259.01 L193.41,260.18 L193.85,261.41 L194.20,262.68Z" fill="none" stroke="#16acec" stroke-width="1.1"/>
<circle cx="179.4" cy="261" r="5.4" fill="#4a48a0" stroke="#5a3e9e" stroke-width="0.7"/>
<path d="M162.95,247.00 L162.97,248.52 L162.89,250.06 L162.84,251.67 L162.76,253.38 L162.33,255.06 L161.34,256.44 L159.92,257.42 L158.42,258.19 L157.03,258.98 L155.66,259.79 L154.20,260.44 L152.66,260.85 L151.09,261.13 L149.50,261.35 L147.89,261.30 L146.36,260.75 L145.02,259.81 L143.78,258.87 L142.46,258.20 L140.99,257.67 L139.51,256.99 L138.19,256.02 L137.05,254.82 L136.04,253.48 L135.29,251.97 L135.01,250.31 L135.20,248.61 L135.52,247.00 L135.65,245.44 L135.64,243.84 L135.84,242.22 L136.48,240.73 L137.44,239.42 L138.52,238.25 L139.68,237.18 L140.98,236.31 L142.39,235.69 L143.76,235.08 L145.03,234.23 L146.34,233.18 L147.84,232.31 L149.50,231.98 L151.17,232.18 L152.78,232.63 L154.33,233.20 L155.77,233.98 L157.04,234.99 L158.20,236.08 L159.42,237.08 L160.73,238.05 L161.85,239.24 L162.51,240.74 L162.69,242.38 L162.71,243.99 L162.81,245.50Z" fill="#ffeb08" stroke="#2e2420" stroke-width="1.8" stroke-linejoin="round"/>
<circle cx="146.8" cy="247.5" r="5.8" fill="#3a36a8"/>
<path d="M347.36,236.00 L346.94,237.23 L346.36,238.36 L345.82,239.44 L345.31,240.49 L344.74,241.49 L344.11,242.46 L343.51,243.51 L342.92,244.67 L342.14,245.77 L341.07,246.53 L339.80,246.85 L338.50,246.94 L337.24,247.03 L336.00,247.13 L334.75,247.09 L333.52,246.85 L332.32,246.51 L331.12,246.12 L329.99,245.56 L329.08,244.68 L328.47,243.53 L328.00,242.38 L327.44,241.38 L326.70,240.48 L325.96,239.51 L325.37,238.43 L324.93,237.25 L324.59,236.00 L324.45,234.70 L324.69,233.42 L325.32,232.26 L326.09,231.23 L326.75,230.19 L327.32,229.08 L328.00,228.00 L328.93,227.13 L330.04,226.52 L331.21,226.06 L332.40,225.72 L333.63,225.60 L334.84,225.72 L336.00,225.90 L337.14,225.86 L338.37,225.63 L339.68,225.48 L340.96,225.70 L342.10,226.29 L343.13,227.07 L344.07,227.93 L344.87,228.93 L345.44,230.07 L345.88,231.24 L346.36,232.38 L346.93,233.51 L347.35,234.72Z" fill="#fff" stroke="#fff" stroke-width="3.2"/>
<path d="M351.96,262.00 L351.51,263.18 L351.24,264.34 L351.04,265.51 L350.69,266.67 L350.12,267.73 L349.45,268.74 L348.70,269.70 L347.81,270.55 L346.74,271.14 L345.58,271.52 L344.48,271.94 L343.41,272.57 L342.27,273.25 L341.00,273.68 L339.68,273.69 L338.40,273.38 L337.19,272.90 L336.07,272.24 L335.13,271.34 L334.38,270.30 L333.66,269.34 L332.81,268.53 L331.87,267.74 L331.09,266.77 L330.66,265.62 L330.49,264.40 L330.38,263.20 L330.30,262.00 L330.33,260.80 L330.52,259.61 L330.73,258.41 L330.87,257.12 L331.09,255.77 L331.66,254.55 L332.66,253.66 L333.89,253.08 L335.13,252.65 L336.30,252.24 L337.47,251.90 L338.65,251.70 L339.82,251.56 L341.00,251.35 L342.22,251.14 L343.46,251.20 L344.61,251.68 L345.62,252.41 L346.58,253.12 L347.63,253.69 L348.72,254.28 L349.74,255.03 L350.64,255.94 L351.45,256.97 L352.15,258.10 L352.52,259.37 L352.41,260.71Z" fill="#fff" stroke="#fff" stroke-width="3.2"/>
<path d="M367.50,270.00 L367.43,271.17 L367.23,272.34 L366.96,273.48 L366.74,274.69 L366.56,276.00 L366.19,277.32 L365.41,278.41 L364.28,279.13 L363.03,279.59 L361.81,280.00 L360.63,280.38 L359.43,280.63 L358.21,280.72 L357.00,280.77 L355.78,280.86 L354.53,280.81 L353.36,280.40 L352.36,279.63 L351.49,278.76 L350.59,278.04 L349.57,277.43 L348.54,276.75 L347.61,275.90 L346.79,274.92 L346.03,273.84 L345.46,272.63 L345.31,271.32 L345.61,270.00 L346.12,268.77 L346.53,267.61 L346.80,266.43 L347.13,265.25 L347.70,264.16 L348.47,263.20 L349.32,262.32 L350.23,261.51 L351.29,260.91 L352.45,260.56 L353.61,260.30 L354.69,259.88 L355.79,259.25 L357.00,258.67 L358.30,258.44 L359.60,258.61 L360.84,259.03 L362.01,259.59 L363.05,260.36 L363.90,261.35 L364.59,262.41 L365.32,263.36 L366.18,264.23 L366.99,265.19 L367.49,266.33 L367.62,267.58 L367.56,268.81Z" fill="#fff" stroke="#fff" stroke-width="3.2"/>
<path d="M392.37,271.00 L392.40,272.17 L392.36,273.36 L392.34,274.62 L392.29,275.95 L391.97,277.26 L391.21,278.34 L390.11,279.11 L388.95,279.71 L387.86,280.32 L386.79,280.95 L385.65,281.44 L384.45,281.73 L383.23,281.94 L382.00,282.09 L380.76,282.03 L379.58,281.60 L378.54,280.87 L377.59,280.15 L376.57,279.64 L375.42,279.25 L374.27,278.73 L373.24,277.99 L372.34,277.07 L371.54,276.04 L370.94,274.87 L370.72,273.57 L370.87,272.25 L371.12,271.00 L371.23,269.79 L371.24,268.54 L371.42,267.30 L371.93,266.15 L372.69,265.15 L373.53,264.25 L374.43,263.43 L375.43,262.77 L376.52,262.28 L377.57,261.80 L378.55,261.13 L379.56,260.30 L380.72,259.61 L382.00,259.34 L383.30,259.48 L384.55,259.82 L385.76,260.26 L386.88,260.87 L387.87,261.66 L388.76,262.52 L389.70,263.30 L390.69,264.07 L391.55,265.00 L392.04,266.16 L392.17,267.44 L392.18,268.68 L392.26,269.84Z" fill="#fff" stroke="#fff" stroke-width="3.2"/>
<path d="M374.36,238.00 L374.45,239.18 L374.36,240.36 L374.09,241.53 L373.54,242.59 L372.68,243.46 L371.68,244.12 L370.76,244.76 L370.00,245.52 L369.23,246.32 L368.32,246.96 L367.27,247.35 L366.18,247.57 L365.10,247.72 L364.00,247.76 L362.92,247.60 L361.87,247.31 L360.82,247.10 L359.66,247.02 L358.42,246.87 L357.29,246.42 L356.41,245.59 L355.77,244.56 L355.26,243.49 L354.87,242.40 L354.65,241.27 L354.59,240.15 L354.51,239.07 L354.31,238.00 L354.11,236.89 L354.18,235.76 L354.64,234.72 L355.29,233.81 L355.92,232.93 L356.49,232.01 L357.11,231.11 L357.84,230.28 L358.64,229.47 L359.49,228.63 L360.45,227.86 L361.58,227.42 L362.81,227.46 L364.00,227.82 L365.10,228.20 L366.17,228.49 L367.22,228.79 L368.23,229.22 L369.18,229.76 L370.12,230.33 L371.05,230.95 L371.81,231.77 L372.28,232.79 L372.57,233.87 L372.91,234.88 L373.44,235.85 L374.00,236.87Z" fill="#fff" stroke="#fff" stroke-width="3.2"/>
<path d="M333.72,225.00 L333.45,226.40 L333.31,227.81 L333.04,229.21 L332.51,230.54 L331.81,231.79 L331.04,233.00 L330.12,234.12 L328.95,234.97 L327.63,235.55 L326.34,236.08 L325.14,236.84 L323.91,237.77 L322.52,238.53 L321.00,238.84 L319.45,238.75 L317.94,238.41 L316.50,237.85 L315.23,236.98 L314.19,235.85 L313.25,234.71 L312.23,233.77 L311.06,232.92 L310.00,231.91 L309.29,230.64 L308.94,229.22 L308.71,227.80 L308.51,226.41 L308.42,225.00 L308.52,223.59 L308.67,222.19 L308.71,220.70 L308.74,219.10 L309.11,217.53 L310.01,216.24 L311.32,215.32 L312.73,214.63 L314.09,214.00 L315.44,213.45 L316.83,213.08 L318.22,212.82 L319.59,212.51 L321.00,212.15 L322.46,212.01 L323.89,212.35 L325.17,213.10 L326.35,213.89 L327.59,214.52 L328.91,215.08 L330.20,215.80 L331.38,216.73 L332.48,217.79 L333.51,218.97 L334.26,220.36 L334.47,221.93 L334.17,223.52Z" fill="#fff" stroke="#fff" stroke-width="3.2"/>
<path d="M349.57,214.00 L349.25,215.49 L348.45,216.84 L347.51,218.03 L346.77,219.19 L346.26,220.45 L345.72,221.76 L344.99,222.99 L344.07,224.12 L343.04,225.20 L341.86,226.16 L340.47,226.78 L338.95,226.95 L337.45,226.89 L336.00,226.93 L334.52,227.13 L332.99,227.20 L331.50,226.87 L330.15,226.15 L328.94,225.23 L327.86,224.21 L326.98,223.02 L326.38,221.68 L325.89,220.35 L325.23,219.19 L324.30,218.09 L323.37,216.88 L322.80,215.49 L322.67,214.00 L322.79,212.51 L323.03,211.04 L323.44,209.61 L324.13,208.28 L324.96,207.07 L325.76,205.83 L326.51,204.51 L327.45,203.27 L328.72,202.42 L330.25,202.05 L331.79,201.97 L333.24,201.91 L334.63,201.83 L336.00,201.83 L337.36,201.92 L338.75,201.93 L340.25,201.85 L341.81,201.94 L343.23,202.50 L344.36,203.51 L345.28,204.72 L346.19,205.88 L347.13,207.00 L347.97,208.24 L348.58,209.60 L349.04,211.02 L349.41,212.49Z" fill="#fff" stroke="#fff" stroke-width="3.2"/>
<path d="M369.96,210.00 L370.40,211.51 L370.62,213.11 L370.29,214.65 L369.40,215.97 L368.24,217.06 L367.14,218.08 L366.10,219.10 L364.99,220.02 L363.77,220.78 L362.52,221.46 L361.25,222.15 L359.90,222.71 L358.45,222.88 L357.00,222.60 L355.63,222.15 L354.29,221.88 L352.87,221.81 L351.37,221.68 L349.92,221.27 L348.55,220.60 L347.25,219.75 L346.09,218.70 L345.29,217.35 L344.97,215.80 L344.89,214.24 L344.74,212.80 L344.38,211.42 L344.08,210.00 L344.10,208.55 L344.44,207.13 L344.93,205.78 L345.52,204.47 L346.29,203.27 L347.30,202.26 L348.35,201.35 L349.27,200.30 L350.11,199.03 L351.12,197.78 L352.41,196.89 L353.91,196.48 L355.47,196.39 L357.00,196.47 L358.49,196.77 L359.88,197.36 L361.17,198.09 L362.44,198.71 L363.79,199.19 L365.15,199.78 L366.27,200.73 L367.03,202.00 L367.58,203.35 L368.14,204.64 L368.72,205.90 L369.20,207.22 L369.57,208.58Z" fill="#fff" stroke="#fff" stroke-width="3.2"/>
<path d="M391.69,210.00 L391.90,211.57 L391.60,213.10 L390.86,214.50 L390.06,215.81 L389.41,217.17 L388.79,218.61 L387.95,219.95 L386.81,221.05 L385.48,221.90 L384.06,222.59 L382.56,223.02 L380.98,223.04 L379.43,222.71 L378.00,222.39 L376.61,222.37 L375.13,222.56 L373.59,222.59 L372.11,222.23 L370.73,221.57 L369.43,220.75 L368.22,219.78 L367.23,218.59 L366.52,217.22 L365.89,215.83 L365.13,214.50 L364.29,213.13 L363.74,211.61 L363.76,210.00 L364.25,208.45 L364.93,207.02 L365.63,205.67 L366.43,204.43 L367.34,203.30 L368.23,202.21 L368.97,200.97 L369.69,199.58 L370.65,198.30 L371.96,197.45 L373.46,197.03 L374.98,196.78 L376.48,196.51 L378.00,196.32 L379.54,196.36 L381.06,196.59 L382.60,196.86 L384.16,197.21 L385.60,197.91 L386.70,199.09 L387.42,200.58 L387.98,202.04 L388.64,203.32 L389.40,204.51 L390.10,205.77 L390.67,207.11 L391.20,208.51Z" fill="#fff" stroke="#fff" stroke-width="3.2"/>
<path d="M414.04,222.00 L413.90,223.45 L413.37,224.82 L412.67,226.08 L411.93,227.26 L411.08,228.33 L410.10,229.26 L409.16,230.16 L408.35,231.22 L407.58,232.46 L406.59,233.62 L405.32,234.36 L403.89,234.66 L402.44,234.74 L401.00,234.77 L399.57,234.67 L398.18,234.34 L396.85,233.86 L395.51,233.40 L394.14,232.92 L392.87,232.20 L391.93,231.07 L391.38,229.67 L390.99,228.29 L390.52,227.05 L389.96,225.86 L389.46,224.63 L389.06,223.35 L388.66,222.00 L388.28,220.57 L388.16,219.07 L388.56,217.65 L389.40,216.41 L390.37,215.32 L391.22,214.20 L392.04,213.04 L393.00,211.97 L394.17,211.13 L395.45,210.48 L396.78,209.94 L398.17,209.62 L399.61,209.70 L401.00,210.14 L402.28,210.60 L403.56,210.79 L404.93,210.78 L406.36,210.87 L407.73,211.29 L408.99,211.98 L410.17,212.83 L411.23,213.85 L412.00,215.09 L412.43,216.50 L412.73,217.89 L413.17,219.22 L413.71,220.57Z" fill="#fff" stroke="#fff" stroke-width="3.2"/>
<path d="M408.38,240.00 L407.88,241.45 L407.33,242.81 L406.72,244.10 L405.97,245.28 L405.18,246.40 L404.51,247.59 L403.95,248.95 L403.26,250.35 L402.20,251.46 L400.84,252.13 L399.37,252.50 L397.93,252.82 L396.48,253.11 L395.00,253.22 L393.52,253.10 L392.05,252.90 L390.56,252.70 L389.08,252.29 L387.82,251.43 L386.90,250.16 L386.23,248.77 L385.55,247.53 L384.75,246.44 L383.93,245.33 L383.23,244.12 L382.59,242.83 L381.96,241.47 L381.49,240.00 L381.46,238.47 L381.95,237.02 L382.69,235.69 L383.34,234.38 L383.87,233.01 L384.52,231.64 L385.45,230.45 L386.62,229.49 L387.89,228.68 L389.24,228.04 L390.71,227.74 L392.22,227.83 L393.66,228.08 L395.00,228.11 L396.37,227.85 L397.83,227.59 L399.32,227.65 L400.74,228.07 L402.09,228.71 L403.38,229.49 L404.50,230.50 L405.34,231.75 L406.00,233.09 L406.70,234.37 L407.55,235.61 L408.30,236.97 L408.60,238.47Z" fill="#fff" stroke="#fff" stroke-width="3.2"/>
<path d="M324.17,244.00 L323.85,245.45 L323.40,246.83 L322.71,248.10 L321.86,249.23 L321.11,250.36 L320.59,251.65 L320.11,253.11 L319.35,254.47 L318.21,255.48 L316.85,256.15 L315.43,256.65 L313.98,257.04 L312.49,257.20 L311.00,257.09 L309.55,256.90 L308.08,256.81 L306.56,256.69 L305.11,256.23 L303.93,255.26 L303.03,253.99 L302.26,252.74 L301.47,251.60 L300.68,250.48 L299.98,249.31 L299.30,248.10 L298.51,246.85 L297.72,245.50 L297.26,244.00 L297.39,242.47 L297.97,241.03 L298.64,239.67 L299.21,238.32 L299.82,236.98 L300.63,235.73 L301.64,234.64 L302.72,233.62 L303.90,232.69 L305.24,232.04 L306.75,231.85 L308.26,232.01 L309.66,232.14 L311.00,231.99 L312.39,231.69 L313.84,231.54 L315.31,231.68 L316.77,232.02 L318.21,232.52 L319.54,233.30 L320.56,234.44 L321.28,235.80 L321.93,237.13 L322.72,238.36 L323.57,239.60 L324.17,240.99 L324.33,242.50Z" fill="#fff" stroke="#fff" stroke-width="3.2"/>
<path d="M410.71,258.00 L410.92,259.57 L410.65,261.12 L409.82,262.49 L408.70,263.63 L407.66,264.70 L406.80,265.82 L405.96,266.96 L404.94,267.96 L403.78,268.78 L402.55,269.52 L401.26,270.17 L399.87,270.56 L398.42,270.57 L397.00,270.36 L395.62,270.29 L394.16,270.46 L392.59,270.60 L391.04,270.38 L389.63,269.73 L388.39,268.79 L387.30,267.70 L386.44,266.42 L385.93,264.96 L385.66,263.46 L385.35,262.08 L384.81,260.78 L384.24,259.44 L383.99,258.00 L384.18,256.56 L384.62,255.17 L385.10,253.84 L385.64,252.53 L386.34,251.30 L387.17,250.16 L387.97,248.97 L388.72,247.62 L389.63,246.28 L390.88,245.29 L392.40,244.86 L394.00,244.84 L395.53,244.95 L397.00,245.08 L398.42,245.36 L399.79,245.80 L401.12,246.24 L402.50,246.59 L403.91,247.01 L405.15,247.78 L406.07,248.93 L406.75,250.22 L407.45,251.43 L408.28,252.57 L409.12,253.76 L409.79,255.08 L410.30,256.50Z" fill="#fff" stroke="#fff" stroke-width="3.2"/>
<path d="M326.90,271.00 L326.53,272.53 L326.09,273.99 L325.80,275.48 L325.57,277.05 L325.05,278.57 L324.07,279.83 L322.77,280.77 L321.39,281.53 L320.01,282.16 L318.59,282.61 L317.15,282.86 L315.77,283.12 L314.42,283.62 L313.00,284.28 L311.45,284.72 L309.89,284.63 L308.42,284.08 L307.05,283.35 L305.71,282.60 L304.44,281.73 L303.33,280.67 L302.33,279.51 L301.31,278.34 L300.29,277.12 L299.56,275.70 L299.39,274.11 L299.72,272.50 L300.17,271.00 L300.48,269.59 L300.68,268.19 L300.97,266.79 L301.38,265.40 L301.80,263.96 L302.28,262.45 L303.04,261.04 L304.22,260.00 L305.68,259.35 L307.15,258.86 L308.54,258.26 L309.94,257.60 L311.44,257.14 L313.00,257.01 L314.56,257.12 L316.11,257.39 L317.57,257.93 L318.83,258.89 L319.83,260.13 L320.73,261.31 L321.78,262.22 L323.02,263.01 L324.23,263.94 L325.19,265.13 L325.92,266.48 L326.52,267.92 L326.90,269.43Z" fill="#fff" stroke="#fff" stroke-width="3.2"/>
<path d="M339.22,290.00 L339.14,291.37 L338.86,292.71 L338.41,293.99 L337.94,295.27 L337.45,296.57 L336.76,297.78 L335.69,298.69 L334.35,299.22 L333.02,299.58 L331.82,300.02 L330.70,300.58 L329.54,301.12 L328.30,301.54 L327.00,301.90 L325.62,302.23 L324.19,302.33 L322.81,301.96 L321.63,301.15 L320.59,300.20 L319.53,299.36 L318.41,298.59 L317.36,297.68 L316.55,296.57 L315.94,295.32 L315.47,294.03 L315.18,292.70 L315.23,291.33 L315.62,290.00 L316.06,288.77 L316.25,287.55 L316.21,286.23 L316.27,284.83 L316.66,283.50 L317.34,282.30 L318.20,281.20 L319.19,280.21 L320.37,279.45 L321.71,279.01 L323.05,278.72 L324.34,278.33 L325.63,277.83 L327.00,277.49 L328.40,277.61 L329.71,278.15 L330.90,278.85 L332.02,279.57 L333.06,280.36 L333.98,281.25 L334.86,282.14 L335.88,282.92 L337.07,283.67 L338.18,284.61 L338.91,285.83 L339.19,287.22 L339.22,288.62Z" fill="#fff" stroke="#fff" stroke-width="3.2"/>
<path d="M361.75,300.00 L362.06,301.47 L361.95,302.96 L361.35,304.32 L360.53,305.55 L359.79,306.78 L359.16,308.11 L358.43,309.43 L357.44,310.58 L356.25,311.54 L354.95,312.36 L353.54,312.99 L352.01,313.18 L350.45,312.88 L349.00,312.35 L347.65,311.98 L346.29,311.88 L344.87,311.80 L343.48,311.47 L342.17,310.87 L340.92,310.14 L339.72,309.28 L338.71,308.21 L338.00,306.91 L337.48,305.55 L336.87,304.25 L336.07,302.95 L335.36,301.54 L335.08,300.00 L335.32,298.46 L335.87,297.00 L336.56,295.65 L337.40,294.41 L338.44,293.37 L339.54,292.46 L340.48,291.48 L341.27,290.31 L342.15,289.09 L343.30,288.16 L344.68,287.64 L346.12,287.39 L347.55,287.17 L349.00,287.01 L350.46,287.04 L351.91,287.27 L353.37,287.52 L354.90,287.75 L356.42,288.19 L357.69,289.10 L358.54,290.46 L359.09,291.95 L359.58,293.35 L360.12,294.64 L360.61,295.94 L360.97,297.27 L361.33,298.61Z" fill="#fff" stroke="#fff" stroke-width="3.2"/>
<path d="M386.32,298.00 L386.59,299.53 L386.43,301.06 L385.93,302.53 L385.24,303.90 L384.34,305.13 L383.15,306.09 L381.79,306.79 L380.50,307.41 L379.42,308.22 L378.41,309.23 L377.24,310.13 L375.89,310.68 L374.45,310.90 L373.00,310.99 L371.54,310.97 L370.10,310.71 L368.73,310.20 L367.40,309.63 L365.98,309.17 L364.48,308.68 L363.11,307.89 L362.15,306.66 L361.60,305.16 L361.28,303.65 L361.01,302.20 L360.85,300.77 L360.85,299.37 L360.87,298.00 L360.74,296.62 L360.52,295.15 L360.55,293.64 L361.09,292.26 L362.00,291.09 L362.99,290.02 L363.91,288.91 L364.86,287.79 L365.96,286.80 L367.21,285.97 L368.52,285.20 L369.92,284.52 L371.44,284.19 L373.00,284.43 L374.45,285.15 L375.76,285.93 L377.02,286.50 L378.33,286.94 L379.61,287.47 L380.83,288.19 L382.01,288.99 L383.18,289.88 L384.21,290.96 L384.87,292.28 L385.17,293.74 L385.39,295.17 L385.81,296.56Z" fill="#fff" stroke="#fff" stroke-width="3.2"/>
<path d="M407.33,286.00 L406.73,287.32 L406.16,288.55 L405.88,289.81 L405.77,291.18 L405.49,292.59 L404.87,293.87 L403.99,294.99 L402.98,296.00 L401.85,296.90 L400.56,297.54 L399.16,297.88 L397.77,298.14 L396.41,298.53 L395.00,298.99 L393.52,299.15 L392.08,298.80 L390.79,298.03 L389.64,297.13 L388.57,296.23 L387.61,295.27 L386.77,294.23 L385.95,293.22 L384.96,292.31 L383.83,291.38 L382.87,290.25 L382.36,288.89 L382.29,287.43 L382.38,286.00 L382.47,284.59 L382.63,283.18 L383.00,281.80 L383.54,280.48 L384.12,279.16 L384.77,277.84 L385.69,276.69 L386.99,275.95 L388.47,275.61 L389.89,275.40 L391.17,275.05 L392.39,274.59 L393.67,274.19 L395.00,273.93 L396.38,273.73 L397.83,273.58 L399.30,273.71 L400.63,274.31 L401.74,275.27 L402.75,276.28 L403.83,277.17 L404.99,278.04 L406.01,279.08 L406.74,280.34 L407.23,281.72 L407.55,283.14 L407.63,284.58Z" fill="#fff" stroke="#fff" stroke-width="3.2"/>
<path d="M359.41,224.00 L359.08,225.36 L358.80,226.69 L358.75,228.11 L358.79,229.68 L358.54,231.25 L357.80,232.61 L356.69,233.69 L355.44,234.58 L354.14,235.36 L352.75,235.94 L351.29,236.26 L349.85,236.48 L348.44,236.79 L347.00,237.15 L345.51,237.23 L344.08,236.79 L342.82,235.95 L341.67,235.08 L340.51,234.32 L339.34,233.60 L338.22,232.78 L337.13,231.87 L335.96,230.93 L334.77,229.89 L333.83,228.61 L333.45,227.09 L333.58,225.51 L333.88,224.00 L334.09,222.55 L334.29,221.10 L334.68,219.69 L335.29,218.36 L335.99,217.08 L336.77,215.84 L337.75,214.75 L339.03,214.00 L340.45,213.58 L341.80,213.20 L343.00,212.57 L344.21,211.77 L345.54,211.08 L347.00,210.68 L348.52,210.55 L350.06,210.59 L351.57,210.94 L352.91,211.72 L354.01,212.84 L354.99,213.98 L356.05,214.95 L357.21,215.86 L358.22,216.95 L358.87,218.28 L359.23,219.72 L359.44,221.16 L359.54,222.59Z" fill="#fff" stroke="#fff" stroke-width="3.2"/>
<path d="M387.77,227.00 L387.14,228.37 L386.73,229.68 L386.58,231.05 L386.39,232.49 L385.90,233.85 L385.10,235.06 L384.16,236.16 L383.14,237.20 L381.95,238.07 L380.61,238.65 L379.23,239.09 L377.88,239.63 L376.50,240.33 L375.00,240.86 L373.44,240.89 L371.95,240.37 L370.60,239.57 L369.37,238.70 L368.25,237.75 L367.29,236.67 L366.43,235.57 L365.50,234.58 L364.38,233.67 L363.28,232.64 L362.54,231.36 L362.27,229.91 L362.23,228.44 L362.18,227.00 L362.13,225.55 L362.24,224.09 L362.55,222.65 L362.95,221.20 L363.39,219.70 L364.08,218.29 L365.21,217.21 L366.69,216.58 L368.24,216.24 L369.65,215.88 L370.94,215.41 L372.25,214.96 L373.61,214.67 L375.00,214.45 L376.44,214.23 L377.93,214.16 L379.37,214.51 L380.64,215.29 L381.77,216.23 L382.94,217.04 L384.25,217.75 L385.53,218.60 L386.58,219.72 L387.36,221.05 L387.94,222.47 L388.29,223.97 L388.25,225.51Z" fill="#fff" stroke="#fff" stroke-width="3.2"/>
<path d="M337.37,251.00 L337.82,252.44 L337.90,253.95 L337.62,255.42 L337.13,256.84 L336.47,258.21 L335.54,259.40 L334.34,260.34 L333.08,261.13 L331.90,261.99 L330.76,262.97 L329.48,263.81 L328.01,264.19 L326.48,264.11 L325.00,263.80 L323.60,263.45 L322.26,263.02 L320.99,262.45 L319.77,261.86 L318.46,261.42 L316.98,261.06 L315.50,260.50 L314.32,259.52 L313.54,258.20 L313.01,256.77 L312.53,255.36 L312.11,253.94 L311.89,252.48 L311.88,251.00 L311.91,249.52 L311.95,248.02 L312.23,246.53 L313.00,245.22 L314.18,244.20 L315.42,243.36 L316.49,242.49 L317.43,241.51 L318.42,240.53 L319.54,239.66 L320.74,238.83 L322.04,238.02 L323.47,237.41 L325.00,237.29 L326.50,237.68 L327.90,238.28 L329.28,238.76 L330.71,239.14 L332.11,239.68 L333.36,240.52 L334.42,241.58 L335.35,242.74 L336.12,244.01 L336.56,245.43 L336.64,246.93 L336.63,248.35 L336.87,249.66Z" fill="#fff" stroke="#fff" stroke-width="3.2"/>
<path d="M366.42,249.00 L366.67,250.43 L366.71,251.90 L366.63,253.42 L366.40,254.97 L365.80,256.41 L364.73,257.55 L363.37,258.37 L362.04,259.08 L360.85,259.90 L359.67,260.77 L358.35,261.44 L356.92,261.79 L355.46,261.93 L354.00,261.94 L352.57,261.74 L351.22,261.20 L350.00,260.45 L348.80,259.80 L347.46,259.42 L345.96,259.08 L344.52,258.48 L343.34,257.50 L342.43,256.27 L341.69,254.93 L341.16,253.49 L340.97,251.97 L341.08,250.46 L341.23,249.00 L341.21,247.56 L341.15,246.07 L341.41,244.60 L342.15,243.29 L343.19,242.20 L344.25,241.22 L345.27,240.27 L346.35,239.40 L347.49,238.64 L348.63,237.85 L349.76,236.89 L351.01,235.88 L352.45,235.20 L354.00,235.12 L355.52,235.52 L356.95,236.06 L358.35,236.58 L359.68,237.20 L360.91,238.00 L362.05,238.91 L363.19,239.81 L364.31,240.78 L365.19,241.97 L365.62,243.40 L365.69,244.91 L365.75,246.32 L366.03,247.64Z" fill="#fff" stroke="#fff" stroke-width="3.2"/>
<path d="M388.73,255.00 L388.63,256.42 L388.31,257.81 L387.85,259.15 L387.40,260.49 L386.90,261.85 L386.11,263.07 L384.94,263.94 L383.54,264.46 L382.21,264.88 L381.03,265.44 L379.88,266.09 L378.66,266.67 L377.37,267.13 L376.00,267.55 L374.55,267.90 L373.05,267.93 L371.65,267.43 L370.44,266.54 L369.35,265.58 L368.21,264.77 L367.03,263.97 L365.97,263.00 L365.16,261.81 L364.54,260.52 L364.05,259.18 L363.78,257.79 L363.89,256.36 L364.29,255.00 L364.64,253.72 L364.70,252.42 L364.59,251.01 L364.68,249.55 L365.14,248.18 L365.88,246.93 L366.78,245.78 L367.85,244.78 L369.12,244.05 L370.53,243.63 L371.90,243.29 L373.22,242.81 L374.57,242.27 L376.00,241.99 L377.44,242.21 L378.79,242.80 L380.02,243.50 L381.20,244.21 L382.28,245.01 L383.25,245.90 L384.23,246.77 L385.38,247.52 L386.67,248.30 L387.79,249.32 L388.45,250.65 L388.67,252.11 L388.71,253.57Z" fill="#fff" stroke="#fff" stroke-width="3.2"/>
<path d="M353.70,282.00 L353.88,283.56 L353.49,285.08 L352.57,286.40 L351.47,287.52 L350.48,288.59 L349.61,289.66 L348.70,290.70 L347.69,291.64 L346.65,292.59 L345.58,293.59 L344.36,294.47 L342.95,294.94 L341.46,294.95 L340.00,294.76 L338.57,294.70 L337.09,294.76 L335.56,294.68 L334.10,294.26 L332.73,293.57 L331.45,292.72 L330.33,291.67 L329.56,290.33 L329.19,288.79 L329.00,287.30 L328.65,285.97 L328.06,284.73 L327.48,283.41 L327.18,282.00 L327.18,280.56 L327.32,279.11 L327.60,277.66 L328.16,276.30 L329.03,275.11 L329.99,274.02 L330.85,272.85 L331.65,271.53 L332.64,270.29 L333.96,269.45 L335.48,269.08 L337.03,268.99 L338.54,269.04 L340.00,269.27 L341.38,269.73 L342.68,270.24 L344.00,270.56 L345.44,270.71 L346.92,270.99 L348.23,271.69 L349.25,272.75 L350.09,273.95 L350.93,275.14 L351.72,276.36 L352.34,277.68 L352.80,279.08 L353.25,280.51Z" fill="#fff" stroke="#fff" stroke-width="3.2"/>
<path d="M380.81,282.00 L380.90,283.45 L380.80,284.92 L380.44,286.35 L379.95,287.75 L379.36,289.14 L378.55,290.41 L377.42,291.42 L376.14,292.20 L374.92,293.02 L373.80,294.05 L372.61,295.16 L371.19,295.99 L369.61,296.33 L368.00,296.30 L366.42,296.05 L364.91,295.54 L363.56,294.70 L362.39,293.66 L361.27,292.71 L360.02,292.00 L358.67,291.33 L357.47,290.40 L356.61,289.16 L356.03,287.76 L355.54,286.36 L355.09,284.95 L354.82,283.49 L354.74,282.00 L354.68,280.50 L354.50,278.92 L354.42,277.25 L354.80,275.64 L355.77,274.32 L357.10,273.31 L358.46,272.46 L359.75,271.66 L361.06,270.96 L362.42,270.41 L363.77,269.90 L365.10,269.29 L366.50,268.67 L368.00,268.38 L369.51,268.61 L370.92,269.19 L372.29,269.75 L373.70,270.15 L375.17,270.58 L376.59,271.23 L377.89,272.11 L379.14,273.12 L380.27,274.29 L381.04,275.72 L381.25,277.36 L381.04,279.02 L380.81,280.56Z" fill="#fff" stroke="#fff" stroke-width="3.2"/>
<path d="M320,215 L400,215 L405,290 L350,305 L305,270Z" fill="#1e9fdc" stroke="#2e2420" stroke-width="1.3"/>
<path d="M347.36,236.00 L346.94,237.23 L346.36,238.36 L345.82,239.44 L345.31,240.49 L344.74,241.49 L344.11,242.46 L343.51,243.51 L342.92,244.67 L342.14,245.77 L341.07,246.53 L339.80,246.85 L338.50,246.94 L337.24,247.03 L336.00,247.13 L334.75,247.09 L333.52,246.85 L332.32,246.51 L331.12,246.12 L329.99,245.56 L329.08,244.68 L328.47,243.53 L328.00,242.38 L327.44,241.38 L326.70,240.48 L325.96,239.51 L325.37,238.43 L324.93,237.25 L324.59,236.00 L324.45,234.70 L324.69,233.42 L325.32,232.26 L326.09,231.23 L326.75,230.19 L327.32,229.08 L328.00,228.00 L328.93,227.13 L330.04,226.52 L331.21,226.06 L332.40,225.72 L333.63,225.60 L334.84,225.72 L336.00,225.90 L337.14,225.86 L338.37,225.63 L339.68,225.48 L340.96,225.70 L342.10,226.29 L343.13,227.07 L344.07,227.93 L344.87,228.93 L345.44,230.07 L345.88,231.24 L346.36,232.38 L346.93,233.51 L347.35,234.72Z" fill="#1e9fdc" stroke="#2e2420" stroke-width="1.8" stroke-linejoin="round"/>
<path d="M345.91,236.00 L345.55,237.08 L345.04,238.06 L344.57,239.00 L344.13,239.91 L343.62,240.79 L343.07,241.64 L342.56,242.56 L342.04,243.57 L341.36,244.53 L340.42,245.19 L339.31,245.47 L338.18,245.55 L337.08,245.62 L336.00,245.71 L334.91,245.68 L333.84,245.47 L332.79,245.17 L331.75,244.84 L330.76,244.35 L329.96,243.57 L329.43,242.57 L329.02,241.56 L328.53,240.70 L327.88,239.91 L327.23,239.07 L326.72,238.12 L326.34,237.09 L326.04,236.00 L325.92,234.86 L326.13,233.75 L326.68,232.74 L327.35,231.84 L327.93,230.93 L328.42,229.96 L329.02,229.02 L329.83,228.26 L330.80,227.73 L331.82,227.32 L332.86,227.03 L333.93,226.92 L334.99,227.03 L336.00,227.18 L337.00,227.15 L338.07,226.95 L339.21,226.82 L340.33,227.01 L341.33,227.53 L342.22,228.20 L343.04,228.96 L343.74,229.83 L344.24,230.82 L344.62,231.85 L345.04,232.84 L345.54,233.82 L345.91,234.88Z" fill="none" stroke="#16acec" stroke-width="1.1"/>
<circle cx="336" cy="234" r="5.4" fill="#4a48a0" stroke="#5a3e9e" stroke-width="0.7"/>
<path d="M351.96,262.00 L351.51,263.18 L351.24,264.34 L351.04,265.51 L350.69,266.67 L350.12,267.73 L349.45,268.74 L348.70,269.70 L347.81,270.55 L346.74,271.14 L345.58,271.52 L344.48,271.94 L343.41,272.57 L342.27,273.25 L341.00,273.68 L339.68,273.69 L338.40,273.38 L337.19,272.90 L336.07,272.24 L335.13,271.34 L334.38,270.30 L333.66,269.34 L332.81,268.53 L331.87,267.74 L331.09,266.77 L330.66,265.62 L330.49,264.40 L330.38,263.20 L330.30,262.00 L330.33,260.80 L330.52,259.61 L330.73,258.41 L330.87,257.12 L331.09,255.77 L331.66,254.55 L332.66,253.66 L333.89,253.08 L335.13,252.65 L336.30,252.24 L337.47,251.90 L338.65,251.70 L339.82,251.56 L341.00,251.35 L342.22,251.14 L343.46,251.20 L344.61,251.68 L345.62,252.41 L346.58,253.12 L347.63,253.69 L348.72,254.28 L349.74,255.03 L350.64,255.94 L351.45,256.97 L352.15,258.10 L352.52,259.37 L352.41,260.71Z" fill="#1e9fdc" stroke="#2e2420" stroke-width="1.8" stroke-linejoin="round"/>
<path d="M350.57,262.00 L350.17,263.03 L349.94,264.04 L349.76,265.07 L349.46,266.07 L348.96,267.00 L348.37,267.88 L347.72,268.72 L346.95,269.46 L346.01,269.97 L345.00,270.31 L344.04,270.68 L343.10,271.22 L342.11,271.82 L341.00,272.19 L339.85,272.20 L338.73,271.93 L337.67,271.51 L336.70,270.93 L335.88,270.15 L335.22,269.25 L334.59,268.41 L333.85,267.70 L333.03,267.01 L332.35,266.16 L331.97,265.16 L331.82,264.09 L331.73,263.04 L331.66,262.00 L331.69,260.95 L331.86,259.91 L332.04,258.86 L332.16,257.74 L332.35,256.57 L332.85,255.50 L333.72,254.72 L334.79,254.22 L335.87,253.84 L336.90,253.48 L337.92,253.19 L338.95,253.02 L339.97,252.89 L341.00,252.70 L342.07,252.52 L343.15,252.58 L344.15,252.99 L345.03,253.63 L345.87,254.25 L346.78,254.75 L347.74,255.26 L348.63,255.91 L349.41,256.71 L350.12,257.61 L350.73,258.60 L351.06,259.70 L350.96,260.88Z" fill="none" stroke="#16acec" stroke-width="1.1"/>
<circle cx="342" cy="258.6" r="5.4" fill="#4a48a0" stroke="#5a3e9e" stroke-width="0.7"/>
<path d="M367.50,270.00 L367.43,271.17 L367.23,272.34 L366.96,273.48 L366.74,274.69 L366.56,276.00 L366.19,277.32 L365.41,278.41 L364.28,279.13 L363.03,279.59 L361.81,280.00 L360.63,280.38 L359.43,280.63 L358.21,280.72 L357.00,280.77 L355.78,280.86 L354.53,280.81 L353.36,280.40 L352.36,279.63 L351.49,278.76 L350.59,278.04 L349.57,277.43 L348.54,276.75 L347.61,275.90 L346.79,274.92 L346.03,273.84 L345.46,272.63 L345.31,271.32 L345.61,270.00 L346.12,268.77 L346.53,267.61 L346.80,266.43 L347.13,265.25 L347.70,264.16 L348.47,263.20 L349.32,262.32 L350.23,261.51 L351.29,260.91 L352.45,260.56 L353.61,260.30 L354.69,259.88 L355.79,259.25 L357.00,258.67 L358.30,258.44 L359.60,258.61 L360.84,259.03 L362.01,259.59 L363.05,260.36 L363.90,261.35 L364.59,262.41 L365.32,263.36 L366.18,264.23 L366.99,265.19 L367.49,266.33 L367.62,267.58 L367.56,268.81Z" fill="#1e9fdc" stroke="#2e2420" stroke-width="1.8" stroke-linejoin="round"/>
<path d="M366.17,270.00 L366.10,271.03 L365.93,272.04 L365.69,273.04 L365.50,274.09 L365.34,275.24 L365.02,276.39 L364.34,277.34 L363.35,277.97 L362.26,278.37 L361.20,278.72 L360.17,279.06 L359.12,279.27 L358.05,279.35 L357.00,279.40 L355.93,279.47 L354.85,279.43 L353.82,279.07 L352.95,278.40 L352.20,277.65 L351.41,277.01 L350.52,276.48 L349.62,275.89 L348.81,275.15 L348.09,274.29 L347.43,273.35 L346.93,272.30 L346.79,271.15 L347.06,270.00 L347.50,268.93 L347.86,267.91 L348.10,266.88 L348.38,265.85 L348.88,264.90 L349.55,264.06 L350.29,263.29 L351.09,262.59 L352.01,262.07 L353.03,261.76 L354.04,261.54 L354.98,261.17 L355.94,260.61 L357.00,260.11 L358.14,259.91 L359.27,260.06 L360.35,260.42 L361.37,260.92 L362.28,261.59 L363.02,262.45 L363.63,263.37 L364.26,264.21 L365.01,264.97 L365.72,265.80 L366.15,266.80 L366.26,267.89 L366.21,268.96Z" fill="none" stroke="#16acec" stroke-width="1.1"/>
<circle cx="356.8" cy="269.4" r="5.4" fill="#4a48a0" stroke="#5a3e9e" stroke-width="0.7"/>
<path d="M392.37,271.00 L392.40,272.17 L392.36,273.36 L392.34,274.62 L392.29,275.95 L391.97,277.26 L391.21,278.34 L390.11,279.11 L388.95,279.71 L387.86,280.32 L386.79,280.95 L385.65,281.44 L384.45,281.73 L383.23,281.94 L382.00,282.09 L380.76,282.03 L379.58,281.60 L378.54,280.87 L377.59,280.15 L376.57,279.64 L375.42,279.25 L374.27,278.73 L373.24,277.99 L372.34,277.07 L371.54,276.04 L370.94,274.87 L370.72,273.57 L370.87,272.25 L371.12,271.00 L371.23,269.79 L371.24,268.54 L371.42,267.30 L371.93,266.15 L372.69,265.15 L373.53,264.25 L374.43,263.43 L375.43,262.77 L376.52,262.28 L377.57,261.80 L378.55,261.13 L379.56,260.30 L380.72,259.61 L382.00,259.34 L383.30,259.48 L384.55,259.82 L385.76,260.26 L386.88,260.87 L387.87,261.66 L388.76,262.52 L389.70,263.30 L390.69,264.07 L391.55,265.00 L392.04,266.16 L392.17,267.44 L392.18,268.68 L392.26,269.84Z" fill="#1e9fdc" stroke="#2e2420" stroke-width="1.8" stroke-linejoin="round"/>
<path d="M391.05,271.00 L391.08,272.02 L391.04,273.06 L391.02,274.16 L390.98,275.32 L390.70,276.47 L390.04,277.41 L389.08,278.08 L388.06,278.60 L387.11,279.14 L386.18,279.68 L385.19,280.11 L384.14,280.37 L383.08,280.54 L382.00,280.67 L380.92,280.63 L379.89,280.25 L378.98,279.62 L378.15,278.99 L377.26,278.54 L376.26,278.20 L375.25,277.75 L374.35,277.10 L373.57,276.30 L372.87,275.40 L372.35,274.38 L372.16,273.25 L372.28,272.09 L372.51,271.00 L372.60,269.94 L372.61,268.86 L372.77,267.77 L373.21,266.77 L373.87,265.89 L374.61,265.11 L375.39,264.39 L376.27,263.81 L377.22,263.39 L378.13,262.97 L378.99,262.39 L379.87,261.66 L380.88,261.06 L382.00,260.82 L383.13,260.94 L384.23,261.24 L385.28,261.63 L386.26,262.16 L387.12,262.85 L387.90,263.60 L388.72,264.28 L389.58,264.95 L390.33,265.76 L390.76,266.78 L390.88,267.89 L390.88,268.97 L390.95,269.99Z" fill="none" stroke="#16acec" stroke-width="1.1"/>
<circle cx="382.3" cy="271.4" r="5.4" fill="#4a48a0" stroke="#5a3e9e" stroke-width="0.7"/>
<path d="M374.36,238.00 L374.45,239.18 L374.36,240.36 L374.09,241.53 L373.54,242.59 L372.68,243.46 L371.68,244.12 L370.76,244.76 L370.00,245.52 L369.23,246.32 L368.32,246.96 L367.27,247.35 L366.18,247.57 L365.10,247.72 L364.00,247.76 L362.92,247.60 L361.87,247.31 L360.82,247.10 L359.66,247.02 L358.42,246.87 L357.29,246.42 L356.41,245.59 L355.77,244.56 L355.26,243.49 L354.87,242.40 L354.65,241.27 L354.59,240.15 L354.51,239.07 L354.31,238.00 L354.11,236.89 L354.18,235.76 L354.64,234.72 L355.29,233.81 L355.92,232.93 L356.49,232.01 L357.11,231.11 L357.84,230.28 L358.64,229.47 L359.49,228.63 L360.45,227.86 L361.58,227.42 L362.81,227.46 L364.00,227.82 L365.10,228.20 L366.17,228.49 L367.22,228.79 L368.23,229.22 L369.18,229.76 L370.12,230.33 L371.05,230.95 L371.81,231.77 L372.28,232.79 L372.57,233.87 L372.91,234.88 L373.44,235.85 L374.00,236.87Z" fill="#1e9fdc" stroke="#2e2420" stroke-width="1.8" stroke-linejoin="round"/>
<path d="M372.91,238.00 L372.99,239.01 L372.91,240.03 L372.67,241.03 L372.21,241.95 L371.47,242.69 L370.60,243.27 L369.82,243.82 L369.16,244.47 L368.50,245.16 L367.71,245.71 L366.81,246.04 L365.88,246.23 L364.94,246.36 L364.00,246.40 L363.07,246.26 L362.17,246.01 L361.26,245.82 L360.27,245.75 L359.20,245.63 L358.23,245.24 L357.47,244.53 L356.92,243.64 L356.49,242.72 L356.14,241.78 L355.96,240.81 L355.91,239.85 L355.84,238.92 L355.66,238.00 L355.49,237.04 L355.56,236.07 L355.95,235.18 L356.51,234.39 L357.05,233.64 L357.54,232.85 L358.08,232.08 L358.71,231.36 L359.39,230.67 L360.12,229.94 L360.95,229.28 L361.92,228.90 L362.98,228.93 L364.00,229.24 L364.95,229.57 L365.87,229.82 L366.77,230.08 L367.63,230.45 L368.45,230.92 L369.26,231.40 L370.06,231.94 L370.71,232.65 L371.12,233.52 L371.37,234.45 L371.66,235.32 L372.11,236.15 L372.60,237.03Z" fill="none" stroke="#16acec" stroke-width="1.1"/>
<circle cx="363" cy="238" r="5.4" fill="#4a48a0" stroke="#5a3e9e" stroke-width="0.7"/>
<path d="M333.72,225.00 L333.45,226.40 L333.31,227.81 L333.04,229.21 L332.51,230.54 L331.81,231.79 L331.04,233.00 L330.12,234.12 L328.95,234.97 L327.63,235.55 L326.34,236.08 L325.14,236.84 L323.91,237.77 L322.52,238.53 L321.00,238.84 L319.45,238.75 L317.94,238.41 L316.50,237.85 L315.23,236.98 L314.19,235.85 L313.25,234.71 L312.23,233.77 L311.06,232.92 L310.00,231.91 L309.29,230.64 L308.94,229.22 L308.71,227.80 L308.51,226.41 L308.42,225.00 L308.52,223.59 L308.67,222.19 L308.71,220.70 L308.74,219.10 L309.11,217.53 L310.01,216.24 L311.32,215.32 L312.73,214.63 L314.09,214.00 L315.44,213.45 L316.83,213.08 L318.22,212.82 L319.59,212.51 L321.00,212.15 L322.46,212.01 L323.89,212.35 L325.17,213.10 L326.35,213.89 L327.59,214.52 L328.91,215.08 L330.20,215.80 L331.38,216.73 L332.48,217.79 L333.51,218.97 L334.26,220.36 L334.47,221.93 L334.17,223.52Z" fill="#1e9fdc" stroke="#2e2420" stroke-width="1.8" stroke-linejoin="round"/>
<path d="M332.35,225.00 L332.11,226.25 L331.98,227.51 L331.74,228.76 L331.27,229.94 L330.64,231.06 L329.95,232.14 L329.13,233.13 L328.10,233.90 L326.91,234.41 L325.76,234.89 L324.70,235.56 L323.60,236.39 L322.36,237.07 L321.00,237.35 L319.62,237.27 L318.27,236.96 L316.99,236.46 L315.85,235.69 L314.92,234.68 L314.09,233.67 L313.17,232.83 L312.13,232.07 L311.19,231.17 L310.55,230.03 L310.24,228.77 L310.04,227.50 L309.86,226.26 L309.77,225.00 L309.86,223.74 L310.00,222.49 L310.03,221.16 L310.06,219.73 L310.39,218.33 L311.19,217.18 L312.36,216.36 L313.62,215.74 L314.83,215.18 L316.04,214.69 L317.28,214.36 L318.52,214.13 L319.74,213.86 L321.00,213.53 L322.31,213.41 L323.58,213.72 L324.72,214.38 L325.77,215.09 L326.88,215.65 L328.06,216.15 L329.21,216.79 L330.26,217.62 L331.25,218.56 L332.17,219.62 L332.83,220.86 L333.01,222.26 L332.75,223.68Z" fill="none" stroke="#16acec" stroke-width="1.1"/>
<circle cx="320" cy="223.8" r="5.4" fill="#4a48a0" stroke="#5a3e9e" stroke-width="0.7"/>
<path d="M349.57,214.00 L349.25,215.49 L348.45,216.84 L347.51,218.03 L346.77,219.19 L346.26,220.45 L345.72,221.76 L344.99,222.99 L344.07,224.12 L343.04,225.20 L341.86,226.16 L340.47,226.78 L338.95,226.95 L337.45,226.89 L336.00,226.93 L334.52,227.13 L332.99,227.20 L331.50,226.87 L330.15,226.15 L328.94,225.23 L327.86,224.21 L326.98,223.02 L326.38,221.68 L325.89,220.35 L325.23,219.19 L324.30,218.09 L323.37,216.88 L322.80,215.49 L322.67,214.00 L322.79,212.51 L323.03,211.04 L323.44,209.61 L324.13,208.28 L324.96,207.07 L325.76,205.83 L326.51,204.51 L327.45,203.27 L328.72,202.42 L330.25,202.05 L331.79,201.97 L333.24,201.91 L334.63,201.83 L336.00,201.83 L337.36,201.92 L338.75,201.93 L340.25,201.85 L341.81,201.94 L343.23,202.50 L344.36,203.51 L345.28,204.72 L346.19,205.88 L347.13,207.00 L347.97,208.24 L348.58,209.60 L349.04,211.02 L349.41,212.49Z" fill="#1e9fdc" stroke="#2e2420" stroke-width="1.8" stroke-linejoin="round"/>
<path d="M348.11,214.00 L347.82,215.33 L347.11,216.54 L346.27,217.59 L345.61,218.63 L345.15,219.75 L344.68,220.92 L344.02,222.02 L343.20,223.03 L342.28,224.00 L341.23,224.85 L339.99,225.40 L338.64,225.55 L337.30,225.50 L336.00,225.54 L334.68,225.72 L333.31,225.78 L331.98,225.48 L330.78,224.84 L329.70,224.02 L328.74,223.11 L327.96,222.04 L327.41,220.85 L326.98,219.67 L326.39,218.63 L325.56,217.65 L324.73,216.57 L324.22,215.33 L324.10,214.00 L324.21,212.67 L324.42,211.36 L324.80,210.08 L325.40,208.90 L326.15,207.81 L326.86,206.71 L327.54,205.54 L328.37,204.43 L329.51,203.67 L330.87,203.34 L332.24,203.27 L333.54,203.21 L334.78,203.14 L336.00,203.14 L337.21,203.22 L338.46,203.23 L339.79,203.16 L341.18,203.24 L342.45,203.73 L343.46,204.64 L344.28,205.72 L345.09,206.75 L345.93,207.76 L346.68,208.86 L347.23,210.07 L347.63,211.35 L347.97,212.65Z" fill="none" stroke="#16acec" stroke-width="1.1"/>
<circle cx="334.7" cy="213.5" r="5.4" fill="#4a48a0" stroke="#5a3e9e" stroke-width="0.7"/>
<path d="M369.96,210.00 L370.40,211.51 L370.62,213.11 L370.29,214.65 L369.40,215.97 L368.24,217.06 L367.14,218.08 L366.10,219.10 L364.99,220.02 L363.77,220.78 L362.52,221.46 L361.25,222.15 L359.90,222.71 L358.45,222.88 L357.00,222.60 L355.63,222.15 L354.29,221.88 L352.87,221.81 L351.37,221.68 L349.92,221.27 L348.55,220.60 L347.25,219.75 L346.09,218.70 L345.29,217.35 L344.97,215.80 L344.89,214.24 L344.74,212.80 L344.38,211.42 L344.08,210.00 L344.10,208.55 L344.44,207.13 L344.93,205.78 L345.52,204.47 L346.29,203.27 L347.30,202.26 L348.35,201.35 L349.27,200.30 L350.11,199.03 L351.12,197.78 L352.41,196.89 L353.91,196.48 L355.47,196.39 L357.00,196.47 L358.49,196.77 L359.88,197.36 L361.17,198.09 L362.44,198.71 L363.79,199.19 L365.15,199.78 L366.27,200.73 L367.03,202.00 L367.58,203.35 L368.14,204.64 L368.72,205.90 L369.20,207.22 L369.57,208.58Z" fill="#1e9fdc" stroke="#2e2420" stroke-width="1.8" stroke-linejoin="round"/>
<path d="M368.56,210.00 L368.96,211.35 L369.16,212.77 L368.86,214.15 L368.06,215.33 L367.03,216.30 L366.04,217.21 L365.12,218.12 L364.13,218.94 L363.04,219.62 L361.92,220.22 L360.79,220.84 L359.59,221.34 L358.30,221.49 L357.00,221.24 L355.78,220.84 L354.58,220.60 L353.31,220.54 L351.98,220.42 L350.68,220.05 L349.46,219.46 L348.30,218.70 L347.27,217.76 L346.56,216.56 L346.26,215.17 L346.20,213.78 L346.06,212.50 L345.74,211.27 L345.47,210.00 L345.49,208.70 L345.80,207.44 L346.23,206.23 L346.75,205.06 L347.45,204.00 L348.34,203.10 L349.28,202.28 L350.10,201.35 L350.85,200.22 L351.75,199.10 L352.91,198.30 L354.25,197.94 L355.63,197.86 L357.00,197.93 L358.33,198.20 L359.57,198.72 L360.72,199.37 L361.85,199.93 L363.06,200.35 L364.27,200.88 L365.27,201.73 L365.95,202.86 L366.44,204.07 L366.94,205.21 L367.46,206.34 L367.89,207.52 L368.21,208.74Z" fill="none" stroke="#16acec" stroke-width="1.1"/>
<circle cx="356.6" cy="209.1" r="5.4" fill="#4a48a0" stroke="#5a3e9e" stroke-width="0.7"/>
<path d="M391.69,210.00 L391.90,211.57 L391.60,213.10 L390.86,214.50 L390.06,215.81 L389.41,217.17 L388.79,218.61 L387.95,219.95 L386.81,221.05 L385.48,221.90 L384.06,222.59 L382.56,223.02 L380.98,223.04 L379.43,222.71 L378.00,222.39 L376.61,222.37 L375.13,222.56 L373.59,222.59 L372.11,222.23 L370.73,221.57 L369.43,220.75 L368.22,219.78 L367.23,218.59 L366.52,217.22 L365.89,215.83 L365.13,214.50 L364.29,213.13 L363.74,211.61 L363.76,210.00 L364.25,208.45 L364.93,207.02 L365.63,205.67 L366.43,204.43 L367.34,203.30 L368.23,202.21 L368.97,200.97 L369.69,199.58 L370.65,198.30 L371.96,197.45 L373.46,197.03 L374.98,196.78 L376.48,196.51 L378.00,196.32 L379.54,196.36 L381.06,196.59 L382.60,196.86 L384.16,197.21 L385.60,197.91 L386.70,199.09 L387.42,200.58 L387.98,202.04 L388.64,203.32 L389.40,204.51 L390.10,205.77 L390.67,207.11 L391.20,208.51Z" fill="#1e9fdc" stroke="#2e2420" stroke-width="1.8" stroke-linejoin="round"/>
<path d="M390.27,210.00 L390.46,211.40 L390.19,212.78 L389.53,214.03 L388.81,215.20 L388.22,216.42 L387.67,217.71 L386.92,218.92 L385.90,219.90 L384.70,220.67 L383.43,221.28 L382.08,221.67 L380.67,221.69 L379.28,221.40 L378.00,221.10 L376.75,221.09 L375.43,221.26 L374.05,221.29 L372.72,220.97 L371.49,220.37 L370.32,219.63 L369.23,218.77 L368.35,217.70 L367.71,216.47 L367.15,215.23 L366.46,214.04 L365.71,212.80 L365.22,211.44 L365.23,210.00 L365.68,208.61 L366.28,207.33 L366.91,206.12 L367.63,205.00 L368.45,204.00 L369.24,203.02 L369.91,201.91 L370.55,200.66 L371.41,199.51 L372.58,198.75 L373.93,198.37 L375.29,198.15 L376.64,197.91 L378.00,197.74 L379.38,197.77 L380.74,197.98 L382.12,198.22 L383.52,198.54 L384.81,199.16 L385.80,200.22 L386.44,201.56 L386.94,202.87 L387.53,204.01 L388.22,205.08 L388.85,206.20 L389.36,207.41 L389.83,208.67Z" fill="none" stroke="#16acec" stroke-width="1.1"/>
<circle cx="375.7" cy="208.4" r="5.4" fill="#4a48a0" stroke="#5a3e9e" stroke-width="0.7"/>
<path d="M414.04,222.00 L413.90,223.45 L413.37,224.82 L412.67,226.08 L411.93,227.26 L411.08,228.33 L410.10,229.26 L409.16,230.16 L408.35,231.22 L407.58,232.46 L406.59,233.62 L405.32,234.36 L403.89,234.66 L402.44,234.74 L401.00,234.77 L399.57,234.67 L398.18,234.34 L396.85,233.86 L395.51,233.40 L394.14,232.92 L392.87,232.20 L391.93,231.07 L391.38,229.67 L390.99,228.29 L390.52,227.05 L389.96,225.86 L389.46,224.63 L389.06,223.35 L388.66,222.00 L388.28,220.57 L388.16,219.07 L388.56,217.65 L389.40,216.41 L390.37,215.32 L391.22,214.20 L392.04,213.04 L393.00,211.97 L394.17,211.13 L395.45,210.48 L396.78,209.94 L398.17,209.62 L399.61,209.70 L401.00,210.14 L402.28,210.60 L403.56,210.79 L404.93,210.78 L406.36,210.87 L407.73,211.29 L408.99,211.98 L410.17,212.83 L411.23,213.85 L412.00,215.09 L412.43,216.50 L412.73,217.89 L413.17,219.22 L413.71,220.57Z" fill="#1e9fdc" stroke="#2e2420" stroke-width="1.8" stroke-linejoin="round"/>
<path d="M412.58,222.00 L412.46,223.29 L411.98,224.51 L411.36,225.63 L410.70,226.67 L409.95,227.62 L409.08,228.45 L408.24,229.24 L407.53,230.19 L406.84,231.29 L405.97,232.32 L404.84,232.98 L403.57,233.24 L402.27,233.31 L401.00,233.34 L399.73,233.25 L398.50,232.95 L397.32,232.53 L396.13,232.12 L394.91,231.70 L393.78,231.05 L392.95,230.05 L392.46,228.81 L392.11,227.59 L391.69,226.48 L391.20,225.43 L390.75,224.34 L390.40,223.19 L390.04,222.00 L389.70,220.73 L389.60,219.40 L389.95,218.13 L390.70,217.04 L391.56,216.07 L392.32,215.08 L393.04,214.04 L393.90,213.10 L394.94,212.35 L396.07,211.77 L397.25,211.29 L398.49,211.00 L399.77,211.08 L401.00,211.47 L402.14,211.88 L403.27,212.05 L404.49,212.03 L405.76,212.12 L406.97,212.49 L408.09,213.11 L409.14,213.86 L410.08,214.76 L410.76,215.86 L411.15,217.11 L411.42,218.35 L411.80,219.53 L412.28,220.73Z" fill="none" stroke="#16acec" stroke-width="1.1"/>
<circle cx="397.8" cy="218" r="5.4" fill="#4a48a0" stroke="#5a3e9e" stroke-width="0.7"/>
<path d="M408.38,240.00 L407.88,241.45 L407.33,242.81 L406.72,244.10 L405.97,245.28 L405.18,246.40 L404.51,247.59 L403.95,248.95 L403.26,250.35 L402.20,251.46 L400.84,252.13 L399.37,252.50 L397.93,252.82 L396.48,253.11 L395.00,253.22 L393.52,253.10 L392.05,252.90 L390.56,252.70 L389.08,252.29 L387.82,251.43 L386.90,250.16 L386.23,248.77 L385.55,247.53 L384.75,246.44 L383.93,245.33 L383.23,244.12 L382.59,242.83 L381.96,241.47 L381.49,240.00 L381.46,238.47 L381.95,237.02 L382.69,235.69 L383.34,234.38 L383.87,233.01 L384.52,231.64 L385.45,230.45 L386.62,229.49 L387.89,228.68 L389.24,228.04 L390.71,227.74 L392.22,227.83 L393.66,228.08 L395.00,228.11 L396.37,227.85 L397.83,227.59 L399.32,227.65 L400.74,228.07 L402.09,228.71 L403.38,229.49 L404.50,230.50 L405.34,231.75 L406.00,233.09 L406.70,234.37 L407.55,235.61 L408.30,236.97 L408.60,238.47Z" fill="#1e9fdc" stroke="#2e2420" stroke-width="1.8" stroke-linejoin="round"/>
<path d="M406.94,240.00 L406.49,241.30 L406.00,242.51 L405.46,243.66 L404.79,244.72 L404.08,245.71 L403.49,246.77 L402.99,247.99 L402.37,249.24 L401.43,250.23 L400.21,250.82 L398.90,251.16 L397.61,251.44 L396.32,251.70 L395.00,251.79 L393.68,251.69 L392.37,251.51 L391.04,251.33 L389.72,250.97 L388.59,250.20 L387.77,249.06 L387.18,247.82 L386.57,246.72 L385.85,245.75 L385.13,244.75 L384.50,243.67 L383.93,242.53 L383.37,241.31 L382.94,240.00 L382.91,238.64 L383.35,237.34 L384.01,236.16 L384.60,234.99 L385.07,233.76 L385.65,232.54 L386.48,231.48 L387.52,230.62 L388.65,229.90 L389.86,229.33 L391.17,229.06 L392.52,229.14 L393.80,229.36 L395.00,229.39 L396.22,229.16 L397.53,228.93 L398.86,228.98 L400.13,229.36 L401.33,229.93 L402.48,230.63 L403.48,231.52 L404.23,232.64 L404.81,233.84 L405.44,234.97 L406.20,236.08 L406.86,237.29 L407.13,238.63Z" fill="none" stroke="#16acec" stroke-width="1.1"/>
<circle cx="392.6" cy="237.8" r="5.4" fill="#4a48a0" stroke="#5a3e9e" stroke-width="0.7"/>
<path d="M324.17,244.00 L323.85,245.45 L323.40,246.83 L322.71,248.10 L321.86,249.23 L321.11,250.36 L320.59,251.65 L320.11,253.11 L319.35,254.47 L318.21,255.48 L316.85,256.15 L315.43,256.65 L313.98,257.04 L312.49,257.20 L311.00,257.09 L309.55,256.90 L308.08,256.81 L306.56,256.69 L305.11,256.23 L303.93,255.26 L303.03,253.99 L302.26,252.74 L301.47,251.60 L300.68,250.48 L299.98,249.31 L299.30,248.10 L298.51,246.85 L297.72,245.50 L297.26,244.00 L297.39,242.47 L297.97,241.03 L298.64,239.67 L299.21,238.32 L299.82,236.98 L300.63,235.73 L301.64,234.64 L302.72,233.62 L303.90,232.69 L305.24,232.04 L306.75,231.85 L308.26,232.01 L309.66,232.14 L311.00,231.99 L312.39,231.69 L313.84,231.54 L315.31,231.68 L316.77,232.02 L318.21,232.52 L319.54,233.30 L320.56,234.44 L321.28,235.80 L321.93,237.13 L322.72,238.36 L323.57,239.60 L324.17,240.99 L324.33,242.50Z" fill="#1e9fdc" stroke="#2e2420" stroke-width="1.8" stroke-linejoin="round"/>
<path d="M322.75,244.00 L322.47,245.29 L322.06,246.52 L321.45,247.65 L320.69,248.67 L320.02,249.67 L319.56,250.83 L319.13,252.13 L318.45,253.34 L317.43,254.24 L316.22,254.84 L314.95,255.29 L313.66,255.64 L312.33,255.78 L311.00,255.68 L309.70,255.52 L308.39,255.43 L307.04,255.33 L305.75,254.91 L304.69,254.04 L303.89,252.91 L303.21,251.79 L302.50,250.78 L301.79,249.79 L301.16,248.74 L300.56,247.65 L299.86,246.54 L299.15,245.34 L298.74,244.00 L298.86,242.63 L299.37,241.35 L299.97,240.14 L300.48,238.94 L301.02,237.73 L301.75,236.62 L302.64,235.64 L303.62,234.74 L304.66,233.91 L305.86,233.33 L307.21,233.16 L308.56,233.30 L309.81,233.42 L311.00,233.29 L312.24,233.02 L313.54,232.89 L314.85,233.01 L316.15,233.31 L317.44,233.76 L318.62,234.45 L319.53,235.47 L320.18,236.68 L320.75,237.87 L321.46,238.96 L322.22,240.07 L322.75,241.32 L322.90,242.66Z" fill="none" stroke="#16acec" stroke-width="1.1"/>
<circle cx="309" cy="243" r="5.4" fill="#4a48a0" stroke="#5a3e9e" stroke-width="0.7"/>
<path d="M410.71,258.00 L410.92,259.57 L410.65,261.12 L409.82,262.49 L408.70,263.63 L407.66,264.70 L406.80,265.82 L405.96,266.96 L404.94,267.96 L403.78,268.78 L402.55,269.52 L401.26,270.17 L399.87,270.56 L398.42,270.57 L397.00,270.36 L395.62,270.29 L394.16,270.46 L392.59,270.60 L391.04,270.38 L389.63,269.73 L388.39,268.79 L387.30,267.70 L386.44,266.42 L385.93,264.96 L385.66,263.46 L385.35,262.08 L384.81,260.78 L384.24,259.44 L383.99,258.00 L384.18,256.56 L384.62,255.17 L385.10,253.84 L385.64,252.53 L386.34,251.30 L387.17,250.16 L387.97,248.97 L388.72,247.62 L389.63,246.28 L390.88,245.29 L392.40,244.86 L394.00,244.84 L395.53,244.95 L397.00,245.08 L398.42,245.36 L399.79,245.80 L401.12,246.24 L402.50,246.59 L403.91,247.01 L405.15,247.78 L406.07,248.93 L406.75,250.22 L407.45,251.43 L408.28,252.57 L409.12,253.76 L409.79,255.08 L410.30,256.50Z" fill="#1e9fdc" stroke="#2e2420" stroke-width="1.8" stroke-linejoin="round"/>
<path d="M409.23,258.00 L409.42,259.40 L409.18,260.78 L408.44,262.00 L407.44,263.03 L406.51,263.97 L405.75,264.98 L405.00,266.00 L404.09,266.89 L403.05,267.62 L401.95,268.28 L400.80,268.86 L399.56,269.21 L398.26,269.21 L397.00,269.03 L395.76,268.97 L394.46,269.12 L393.06,269.25 L391.68,269.05 L390.43,268.46 L389.32,267.63 L388.34,266.66 L387.58,265.51 L387.12,264.21 L386.88,262.87 L386.60,261.64 L386.12,260.48 L385.61,259.28 L385.39,258.00 L385.56,256.71 L385.95,255.48 L386.38,254.29 L386.86,253.12 L387.49,252.02 L388.23,251.00 L388.94,249.94 L389.61,248.74 L390.43,247.54 L391.54,246.66 L392.90,246.28 L394.32,246.26 L395.69,246.35 L397.00,246.48 L398.27,246.72 L399.49,247.11 L400.67,247.50 L401.90,247.82 L403.16,248.19 L404.28,248.88 L405.10,249.90 L405.70,251.06 L406.32,252.14 L407.07,253.15 L407.82,254.22 L408.41,255.40 L408.86,256.66Z" fill="none" stroke="#16acec" stroke-width="1.1"/>
<circle cx="398.9" cy="256.7" r="5.4" fill="#4a48a0" stroke="#5a3e9e" stroke-width="0.7"/>
<path d="M326.90,271.00 L326.53,272.53 L326.09,273.99 L325.80,275.48 L325.57,277.05 L325.05,278.57 L324.07,279.83 L322.77,280.77 L321.39,281.53 L320.01,282.16 L318.59,282.61 L317.15,282.86 L315.77,283.12 L314.42,283.62 L313.00,284.28 L311.45,284.72 L309.89,284.63 L308.42,284.08 L307.05,283.35 L305.71,282.60 L304.44,281.73 L303.33,280.67 L302.33,279.51 L301.31,278.34 L300.29,277.12 L299.56,275.70 L299.39,274.11 L299.72,272.50 L300.17,271.00 L300.48,269.59 L300.68,268.19 L300.97,266.79 L301.38,265.40 L301.80,263.96 L302.28,262.45 L303.04,261.04 L304.22,260.00 L305.68,259.35 L307.15,258.86 L308.54,258.26 L309.94,257.60 L311.44,257.14 L313.00,257.01 L314.56,257.12 L316.11,257.39 L317.57,257.93 L318.83,258.89 L319.83,260.13 L320.73,261.31 L321.78,262.22 L323.02,263.01 L324.23,263.94 L325.19,265.13 L325.92,266.48 L326.52,267.92 L326.90,269.43Z" fill="#1e9fdc" stroke="#2e2420" stroke-width="1.8" stroke-linejoin="round"/>
<path d="M325.46,271.00 L325.13,272.37 L324.73,273.68 L324.47,275.01 L324.27,276.43 L323.80,277.79 L322.92,278.91 L321.76,279.76 L320.52,280.43 L319.29,281.00 L318.01,281.41 L316.72,281.63 L315.48,281.86 L314.27,282.31 L313.00,282.90 L311.61,283.30 L310.21,283.22 L308.90,282.72 L307.67,282.07 L306.47,281.40 L305.33,280.62 L304.33,279.67 L303.44,278.63 L302.53,277.58 L301.61,276.48 L300.95,275.22 L300.80,273.78 L301.10,272.34 L301.50,271.00 L301.78,269.74 L301.96,268.48 L302.22,267.23 L302.58,265.98 L302.96,264.69 L303.39,263.34 L304.07,262.07 L305.13,261.14 L306.44,260.56 L307.76,260.12 L309.00,259.58 L310.26,258.99 L311.60,258.57 L313.00,258.46 L314.40,258.56 L315.78,258.80 L317.10,259.29 L318.23,260.15 L319.12,261.26 L319.93,262.31 L320.87,263.13 L321.98,263.84 L323.07,264.68 L323.93,265.74 L324.58,266.95 L325.11,268.24 L325.46,269.60Z" fill="none" stroke="#16acec" stroke-width="1.1"/>
<circle cx="315.6" cy="269.4" r="5.4" fill="#4a48a0" stroke="#5a3e9e" stroke-width="0.7"/>
<path d="M339.22,290.00 L339.14,291.37 L338.86,292.71 L338.41,293.99 L337.94,295.27 L337.45,296.57 L336.76,297.78 L335.69,298.69 L334.35,299.22 L333.02,299.58 L331.82,300.02 L330.70,300.58 L329.54,301.12 L328.30,301.54 L327.00,301.90 L325.62,302.23 L324.19,302.33 L322.81,301.96 L321.63,301.15 L320.59,300.20 L319.53,299.36 L318.41,298.59 L317.36,297.68 L316.55,296.57 L315.94,295.32 L315.47,294.03 L315.18,292.70 L315.23,291.33 L315.62,290.00 L316.06,288.77 L316.25,287.55 L316.21,286.23 L316.27,284.83 L316.66,283.50 L317.34,282.30 L318.20,281.20 L319.19,280.21 L320.37,279.45 L321.71,279.01 L323.05,278.72 L324.34,278.33 L325.63,277.83 L327.00,277.49 L328.40,277.61 L329.71,278.15 L330.90,278.85 L332.02,279.57 L333.06,280.36 L333.98,281.25 L334.86,282.14 L335.88,282.92 L337.07,283.67 L338.18,284.61 L338.91,285.83 L339.19,287.22 L339.22,288.62Z" fill="#1e9fdc" stroke="#2e2420" stroke-width="1.8" stroke-linejoin="round"/>
<path d="M337.79,290.00 L337.72,291.21 L337.48,292.39 L337.08,293.53 L336.66,294.65 L336.23,295.80 L335.62,296.87 L334.67,297.67 L333.49,298.14 L332.31,298.46 L331.26,298.85 L330.27,299.35 L329.24,299.82 L328.15,300.19 L327.00,300.51 L325.78,300.80 L324.51,300.89 L323.30,300.57 L322.26,299.85 L321.34,299.01 L320.41,298.27 L319.41,297.59 L318.49,296.79 L317.77,295.80 L317.23,294.70 L316.81,293.56 L316.56,292.38 L316.61,291.17 L316.95,290.00 L317.34,288.91 L317.50,287.83 L317.47,286.67 L317.52,285.44 L317.86,284.26 L318.47,283.20 L319.22,282.22 L320.10,281.35 L321.15,280.68 L322.33,280.29 L323.51,280.04 L324.65,279.69 L325.79,279.25 L327.00,278.95 L328.23,279.05 L329.39,279.53 L330.45,280.15 L331.44,280.79 L332.35,281.48 L333.17,282.27 L333.95,283.05 L334.84,283.75 L335.89,284.41 L336.88,285.24 L337.52,286.32 L337.77,287.54 L337.79,288.78Z" fill="none" stroke="#16acec" stroke-width="1.1"/>
<circle cx="325.4" cy="290" r="5.4" fill="#4a48a0" stroke="#5a3e9e" stroke-width="0.7"/>
<path d="M361.75,300.00 L362.06,301.47 L361.95,302.96 L361.35,304.32 L360.53,305.55 L359.79,306.78 L359.16,308.11 L358.43,309.43 L357.44,310.58 L356.25,311.54 L354.95,312.36 L353.54,312.99 L352.01,313.18 L350.45,312.88 L349.00,312.35 L347.65,311.98 L346.29,311.88 L344.87,311.80 L343.48,311.47 L342.17,310.87 L340.92,310.14 L339.72,309.28 L338.71,308.21 L338.00,306.91 L337.48,305.55 L336.87,304.25 L336.07,302.95 L335.36,301.54 L335.08,300.00 L335.32,298.46 L335.87,297.00 L336.56,295.65 L337.40,294.41 L338.44,293.37 L339.54,292.46 L340.48,291.48 L341.27,290.31 L342.15,289.09 L343.30,288.16 L344.68,287.64 L346.12,287.39 L347.55,287.17 L349.00,287.01 L350.46,287.04 L351.91,287.27 L353.37,287.52 L354.90,287.75 L356.42,288.19 L357.69,289.10 L358.54,290.46 L359.09,291.95 L359.58,293.35 L360.12,294.64 L360.61,295.94 L360.97,297.27 L361.33,298.61Z" fill="#1e9fdc" stroke="#2e2420" stroke-width="1.8" stroke-linejoin="round"/>
<path d="M360.38,300.00 L360.65,301.31 L360.56,302.64 L360.02,303.86 L359.29,304.95 L358.63,306.05 L358.07,307.23 L357.41,308.41 L356.53,309.44 L355.47,310.30 L354.31,311.03 L353.05,311.59 L351.68,311.76 L350.29,311.49 L349.00,311.02 L347.80,310.69 L346.58,310.60 L345.32,310.53 L344.07,310.24 L342.90,309.70 L341.79,309.04 L340.72,308.28 L339.82,307.32 L339.19,306.17 L338.72,304.95 L338.17,303.79 L337.46,302.63 L336.83,301.37 L336.58,300.00 L336.80,298.62 L337.29,297.33 L337.90,296.11 L338.65,295.02 L339.58,294.08 L340.56,293.27 L341.40,292.40 L342.10,291.35 L342.88,290.27 L343.91,289.43 L345.14,288.97 L346.43,288.74 L347.71,288.55 L349.00,288.41 L350.30,288.44 L351.59,288.64 L352.90,288.86 L354.26,289.07 L355.62,289.46 L356.75,290.28 L357.52,291.48 L358.00,292.82 L358.44,294.07 L358.92,295.22 L359.36,296.38 L359.68,297.56 L360.00,298.76Z" fill="none" stroke="#16acec" stroke-width="1.1"/>
<circle cx="348.9" cy="301.8" r="5.4" fill="#4a48a0" stroke="#5a3e9e" stroke-width="0.7"/>
<path d="M386.32,298.00 L386.59,299.53 L386.43,301.06 L385.93,302.53 L385.24,303.90 L384.34,305.13 L383.15,306.09 L381.79,306.79 L380.50,307.41 L379.42,308.22 L378.41,309.23 L377.24,310.13 L375.89,310.68 L374.45,310.90 L373.00,310.99 L371.54,310.97 L370.10,310.71 L368.73,310.20 L367.40,309.63 L365.98,309.17 L364.48,308.68 L363.11,307.89 L362.15,306.66 L361.60,305.16 L361.28,303.65 L361.01,302.20 L360.85,300.77 L360.85,299.37 L360.87,298.00 L360.74,296.62 L360.52,295.15 L360.55,293.64 L361.09,292.26 L362.00,291.09 L362.99,290.02 L363.91,288.91 L364.86,287.79 L365.96,286.80 L367.21,285.97 L368.52,285.20 L369.92,284.52 L371.44,284.19 L373.00,284.43 L374.45,285.15 L375.76,285.93 L377.02,286.50 L378.33,286.94 L379.61,287.47 L380.83,288.19 L382.01,288.99 L383.18,289.88 L384.21,290.96 L384.87,292.28 L385.17,293.74 L385.39,295.17 L385.81,296.56Z" fill="#1e9fdc" stroke="#2e2420" stroke-width="1.8" stroke-linejoin="round"/>
<path d="M384.88,298.00 L385.12,299.37 L384.98,300.73 L384.54,302.04 L383.93,303.26 L383.12,304.36 L382.06,305.22 L380.84,305.84 L379.69,306.39 L378.73,307.12 L377.82,308.02 L376.79,308.82 L375.58,309.31 L374.30,309.51 L373.00,309.59 L371.70,309.57 L370.41,309.34 L369.19,308.89 L368.00,308.38 L366.74,307.96 L365.40,307.53 L364.18,306.82 L363.31,305.72 L362.83,304.39 L362.54,303.04 L362.30,301.74 L362.16,300.47 L362.16,299.22 L362.18,298.00 L362.06,296.77 L361.86,295.46 L361.89,294.11 L362.37,292.88 L363.19,291.83 L364.07,290.88 L364.89,289.89 L365.74,288.89 L366.72,288.01 L367.83,287.27 L369.00,286.58 L370.26,285.97 L371.61,285.67 L373.00,285.89 L374.29,286.53 L375.46,287.23 L376.59,287.74 L377.75,288.13 L378.90,288.61 L379.98,289.24 L381.04,289.96 L382.09,290.75 L383.00,291.71 L383.59,292.90 L383.86,294.20 L384.06,295.48 L384.43,296.71Z" fill="none" stroke="#16acec" stroke-width="1.1"/>
<circle cx="375.4" cy="296.9" r="5.4" fill="#4a48a0" stroke="#5a3e9e" stroke-width="0.7"/>
<path d="M407.33,286.00 L406.73,287.32 L406.16,288.55 L405.88,289.81 L405.77,291.18 L405.49,292.59 L404.87,293.87 L403.99,294.99 L402.98,296.00 L401.85,296.90 L400.56,297.54 L399.16,297.88 L397.77,298.14 L396.41,298.53 L395.00,298.99 L393.52,299.15 L392.08,298.80 L390.79,298.03 L389.64,297.13 L388.57,296.23 L387.61,295.27 L386.77,294.23 L385.95,293.22 L384.96,292.31 L383.83,291.38 L382.87,290.25 L382.36,288.89 L382.29,287.43 L382.38,286.00 L382.47,284.59 L382.63,283.18 L383.00,281.80 L383.54,280.48 L384.12,279.16 L384.77,277.84 L385.69,276.69 L386.99,275.95 L388.47,275.61 L389.89,275.40 L391.17,275.05 L392.39,274.59 L393.67,274.19 L395.00,273.93 L396.38,273.73 L397.83,273.58 L399.30,273.71 L400.63,274.31 L401.74,275.27 L402.75,276.28 L403.83,277.17 L404.99,278.04 L406.01,279.08 L406.74,280.34 L407.23,281.72 L407.55,283.14 L407.63,284.58Z" fill="#1e9fdc" stroke="#2e2420" stroke-width="1.8" stroke-linejoin="round"/>
<path d="M405.95,286.00 L405.42,287.17 L404.91,288.26 L404.66,289.38 L404.56,290.60 L404.32,291.86 L403.77,292.99 L402.98,293.98 L402.09,294.88 L401.08,295.68 L399.93,296.24 L398.69,296.55 L397.46,296.78 L396.25,297.13 L395.00,297.53 L393.68,297.68 L392.41,297.36 L391.26,296.68 L390.24,295.88 L389.29,295.08 L388.44,294.23 L387.69,293.31 L386.96,292.41 L386.09,291.60 L385.09,290.77 L384.23,289.77 L383.77,288.56 L383.71,287.27 L383.80,286.00 L383.87,284.75 L384.02,283.49 L384.35,282.27 L384.82,281.10 L385.34,279.93 L385.91,278.75 L386.74,277.74 L387.88,277.08 L389.20,276.77 L390.47,276.59 L391.60,276.28 L392.69,275.86 L393.82,275.51 L395.00,275.28 L396.23,275.10 L397.52,274.97 L398.82,275.09 L400.00,275.62 L400.99,276.47 L401.88,277.37 L402.84,278.16 L403.87,278.93 L404.78,279.86 L405.43,280.98 L405.86,282.20 L406.14,283.46 L406.22,284.74Z" fill="none" stroke="#16acec" stroke-width="1.1"/>
<circle cx="397" cy="284.1" r="5.4" fill="#4a48a0" stroke="#5a3e9e" stroke-width="0.7"/>
<path d="M359.98,224.00 L360.00,225.46 L359.92,226.95 L359.87,228.50 L359.79,230.16 L359.38,231.78 L358.42,233.11 L357.06,234.06 L355.61,234.80 L354.26,235.56 L352.94,236.34 L351.54,236.97 L350.05,237.36 L348.54,237.64 L347.00,237.84 L345.45,237.79 L343.97,237.27 L342.67,236.36 L341.48,235.46 L340.21,234.81 L338.79,234.30 L337.36,233.64 L336.09,232.70 L334.99,231.54 L334.02,230.25 L333.29,228.80 L333.02,227.19 L333.20,225.55 L333.51,224.00 L333.63,222.49 L333.63,220.95 L333.82,219.39 L334.44,217.95 L335.37,216.69 L336.41,215.55 L337.52,214.52 L338.78,213.69 L340.14,213.09 L341.46,212.50 L342.69,211.68 L343.96,210.66 L345.40,209.83 L347.00,209.51 L348.61,209.70 L350.16,210.14 L351.66,210.69 L353.05,211.44 L354.28,212.42 L355.40,213.47 L356.57,214.43 L357.83,215.36 L358.92,216.51 L359.55,217.96 L359.72,219.55 L359.74,221.09 L359.84,222.55Z" fill="#ffeb08" stroke="#2e2420" stroke-width="1.8" stroke-linejoin="round"/>
<circle cx="345" cy="223.8" r="5.8" fill="#3a36a8"/>
<path d="M389.15,227.00 L389.26,228.61 L389.12,230.22 L388.75,231.81 L388.02,233.27 L386.86,234.45 L385.50,235.37 L384.26,236.26 L383.22,237.31 L382.18,238.43 L380.94,239.33 L379.50,239.87 L378.01,240.18 L376.51,240.38 L375.00,240.43 L373.51,240.19 L372.09,239.77 L370.64,239.45 L369.07,239.32 L367.39,239.12 L365.84,238.48 L364.65,237.35 L363.78,235.95 L363.08,234.49 L362.52,233.01 L362.21,231.48 L362.10,229.94 L361.98,228.47 L361.68,227.00 L361.39,225.47 L361.48,223.91 L362.11,222.49 L363.02,221.23 L363.90,220.02 L364.70,218.78 L365.56,217.56 L366.58,216.44 L367.68,215.35 L368.84,214.21 L370.16,213.16 L371.71,212.57 L373.38,212.62 L375.00,213.10 L376.51,213.61 L377.97,213.98 L379.42,214.37 L380.80,214.95 L382.12,215.67 L383.42,216.44 L384.70,217.30 L385.75,218.43 L386.40,219.84 L386.78,221.33 L387.23,222.72 L387.93,224.05 L388.67,225.46Z" fill="#ffeb08" stroke="#2e2420" stroke-width="1.8" stroke-linejoin="round"/>
<circle cx="378" cy="229" r="5.8" fill="#3a36a8"/>
<path d="M338.38,251.00 L338.11,252.48 L337.99,253.96 L337.72,255.45 L337.17,256.86 L336.44,258.19 L335.63,259.48 L334.65,260.65 L333.41,261.55 L332.00,262.15 L330.63,262.69 L329.36,263.47 L328.06,264.43 L326.60,265.21 L325.00,265.53 L323.38,265.42 L321.79,265.07 L320.28,264.49 L318.94,263.58 L317.83,262.41 L316.84,261.24 L315.74,260.26 L314.50,259.38 L313.36,258.31 L312.60,256.97 L312.22,255.47 L311.99,253.97 L311.79,252.49 L311.71,251.00 L311.84,249.52 L312.02,248.04 L312.08,246.48 L312.13,244.80 L312.52,243.16 L313.47,241.81 L314.84,240.84 L316.32,240.11 L317.73,239.44 L319.15,238.84 L320.60,238.43 L322.06,238.14 L323.51,237.79 L325.00,237.39 L326.55,237.24 L328.06,237.61 L329.41,238.40 L330.66,239.25 L331.95,239.93 L333.33,240.55 L334.68,241.32 L335.90,242.31 L337.05,243.43 L338.13,244.68 L338.91,246.13 L339.13,247.77 L338.83,249.44Z" fill="#ffeb08" stroke="#2e2420" stroke-width="1.8" stroke-linejoin="round"/>
<circle cx="323.4" cy="252.7" r="5.8" fill="#3a36a8"/>
<path d="M368.29,249.00 L367.98,250.58 L367.16,252.00 L366.18,253.26 L365.41,254.49 L364.87,255.83 L364.30,257.21 L363.51,258.51 L362.52,259.69 L361.42,260.82 L360.17,261.81 L358.70,262.44 L357.10,262.59 L355.52,262.52 L354.00,262.56 L352.45,262.77 L350.84,262.86 L349.27,262.52 L347.84,261.78 L346.56,260.84 L345.41,259.77 L344.47,258.53 L343.81,257.13 L343.28,255.73 L342.59,254.50 L341.62,253.33 L340.65,252.05 L340.06,250.57 L339.94,249.00 L340.10,247.43 L340.37,245.89 L340.82,244.39 L341.55,243.00 L342.43,241.73 L343.26,240.43 L344.04,239.04 L345.01,237.72 L346.34,236.81 L347.93,236.40 L349.55,236.30 L351.08,236.21 L352.55,236.11 L354.00,236.11 L355.44,236.20 L356.91,236.23 L358.49,236.16 L360.13,236.27 L361.62,236.88 L362.80,237.97 L363.75,239.25 L364.69,240.47 L365.68,241.66 L366.55,242.96 L367.20,244.38 L367.69,245.87 L368.11,247.41Z" fill="#ffeb08" stroke="#2e2420" stroke-width="1.8" stroke-linejoin="round"/>
<circle cx="351.9" cy="247.8" r="5.8" fill="#3a36a8"/>
<path d="M389.13,255.00 L389.56,256.53 L389.78,258.14 L389.44,259.70 L388.53,261.03 L387.37,262.14 L386.26,263.18 L385.22,264.22 L384.11,265.17 L382.88,265.95 L381.62,266.66 L380.33,267.38 L378.96,267.97 L377.48,268.15 L376.00,267.85 L374.60,267.39 L373.24,267.10 L371.80,267.01 L370.29,266.85 L368.83,266.42 L367.45,265.72 L366.14,264.86 L364.97,263.79 L364.17,262.43 L363.83,260.86 L363.75,259.29 L363.57,257.84 L363.19,256.44 L362.86,255.00 L362.86,253.52 L363.20,252.08 L363.69,250.69 L364.28,249.36 L365.08,248.14 L366.11,247.11 L367.20,246.20 L368.14,245.15 L369.01,243.88 L370.04,242.62 L371.36,241.74 L372.88,241.33 L374.45,241.25 L376.00,241.33 L377.51,241.62 L378.92,242.20 L380.23,242.92 L381.52,243.53 L382.91,244.00 L384.30,244.59 L385.45,245.55 L386.24,246.84 L386.80,248.21 L387.36,249.53 L387.94,250.82 L388.41,252.17 L388.76,253.56Z" fill="#ffeb08" stroke="#2e2420" stroke-width="1.8" stroke-linejoin="round"/>
<circle cx="373.4" cy="253" r="5.8" fill="#3a36a8"/>
<path d="M353.92,282.00 L354.11,283.59 L353.78,285.15 L353.02,286.56 L352.19,287.87 L351.52,289.24 L350.90,290.69 L350.05,292.05 L348.91,293.17 L347.57,294.05 L346.15,294.76 L344.63,295.23 L343.03,295.27 L341.46,294.95 L340.00,294.64 L338.58,294.62 L337.08,294.81 L335.51,294.83 L334.00,294.45 L332.61,293.75 L331.30,292.91 L330.09,291.91 L329.10,290.69 L328.40,289.29 L327.77,287.89 L327.00,286.55 L326.15,285.16 L325.57,283.63 L325.57,282.00 L326.05,280.43 L326.72,278.97 L327.41,277.60 L328.21,276.32 L329.13,275.17 L330.03,274.05 L330.79,272.79 L331.53,271.38 L332.52,270.10 L333.86,269.25 L335.40,268.84 L336.94,268.61 L338.46,268.36 L340.00,268.18 L341.55,268.22 L343.09,268.45 L344.65,268.72 L346.23,269.06 L347.70,269.74 L348.83,270.93 L349.57,272.43 L350.16,273.90 L350.84,275.19 L351.63,276.40 L352.34,277.68 L352.92,279.05 L353.44,280.49Z" fill="#ffeb08" stroke="#2e2420" stroke-width="1.8" stroke-linejoin="round"/>
<circle cx="337.2" cy="281.2" r="5.8" fill="#3a36a8"/>
<path d="M382.78,282.00 L382.65,283.65 L382.06,285.21 L381.30,286.65 L380.47,288.00 L379.50,289.23 L378.40,290.29 L377.31,291.31 L376.39,292.52 L375.49,293.92 L374.36,295.21 L372.91,296.03 L371.28,296.35 L369.63,296.42 L368.00,296.44 L366.39,296.32 L364.82,295.95 L363.31,295.41 L361.78,294.91 L360.22,294.39 L358.76,293.58 L357.68,292.32 L357.04,290.74 L356.58,289.18 L356.03,287.76 L355.40,286.41 L354.83,285.01 L354.39,283.53 L353.96,282.00 L353.54,280.37 L353.43,278.67 L353.90,277.07 L354.87,275.68 L355.98,274.45 L356.95,273.19 L357.87,271.87 L358.95,270.65 L360.26,269.69 L361.70,268.92 L363.20,268.29 L364.78,267.90 L366.42,267.98 L368.00,268.46 L369.47,268.98 L370.92,269.20 L372.48,269.20 L374.10,269.32 L375.65,269.82 L377.07,270.62 L378.40,271.60 L379.58,272.77 L380.44,274.18 L380.92,275.78 L381.26,277.36 L381.76,278.86 L382.39,280.38Z" fill="#ffeb08" stroke="#2e2420" stroke-width="1.8" stroke-linejoin="round"/>
<circle cx="368.5" cy="279.2" r="5.8" fill="#3a36a8"/>
<text x="0.5" y="364.6" font-size="12" font-weight="bold" fill="#1a1a1a">Figure Circulating A-FABP promotes obesity-associated breast cancer risk</text>
<text x="0.5" y="378" font-size="12" font-weight="normal" fill="#1a1a1a">Links underlying obesity-induced cancer are not well understood. Circulating A-FABP increases in obesity and</text>
<text x="0.5" y="391.4" font-size="12" font-weight="normal" fill="#1a1a1a">promotes breast cancer by increasing mammary tumor stemness and aggressiveness through an IL-6/STAT3/ALDH1</text>
<text x="0.5" y="404.8" font-size="12" font-weight="normal" fill="#1a1a1a">axis. A-FABP could be a potential therapeutic target for obesity-associated breast cancer risk.</text>
</svg></body></html>
